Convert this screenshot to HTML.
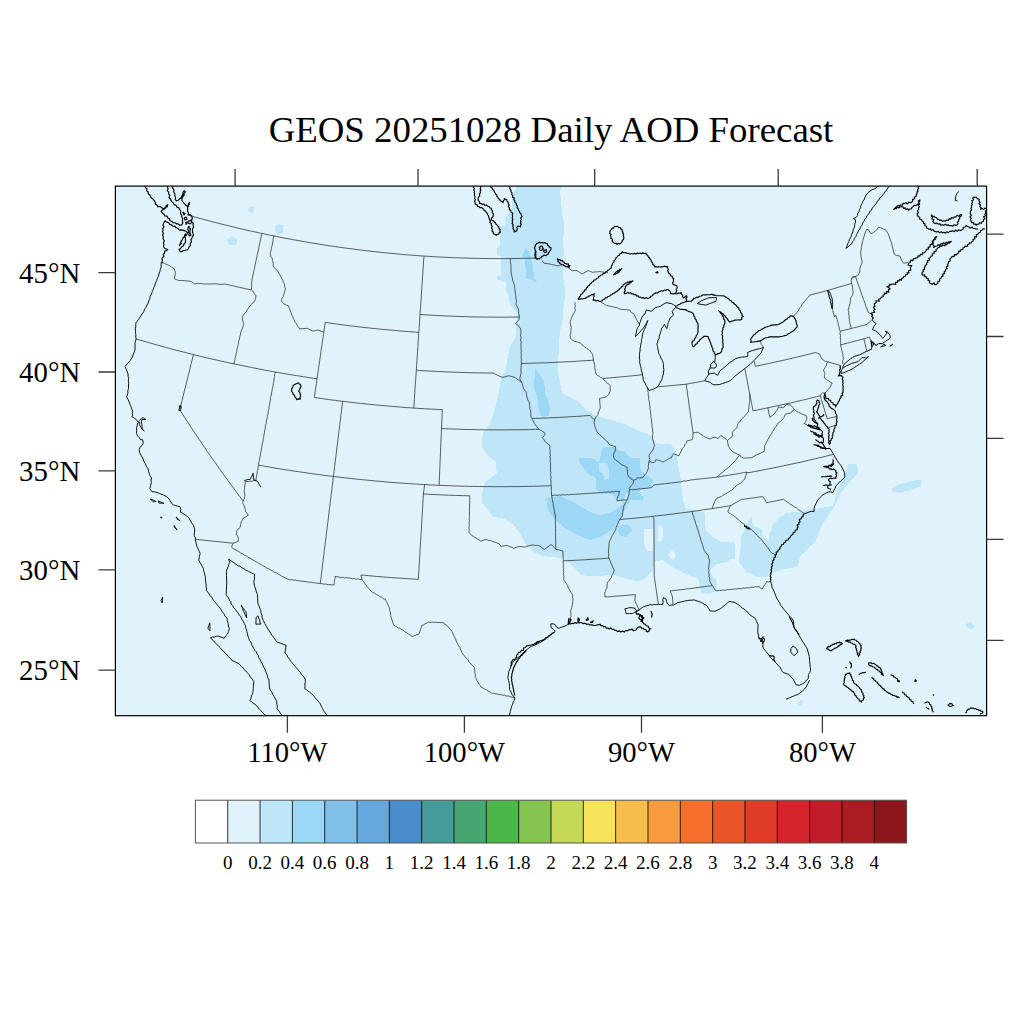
<!DOCTYPE html><html><head><meta charset="utf-8"><title>GEOS AOD Forecast</title><style>html,body{margin:0;padding:0;background:#fff;}svg{display:block;}text{font-family:"Liberation Serif","Times New Roman",serif;fill:#000;}</style></head><body><svg width="1024" height="1024" viewBox="0 0 1024 1024"><defs><clipPath id="mc"><rect x="115.4" y="186.1" width="871.2" height="529.6"/></clipPath></defs><rect x="115.4" y="186.1" width="871.2" height="529.6" fill="#e0f3fb"/><g clip-path="url(#mc)"><path d="M515.7,186 562.6,186 560.2,190.7 560.8,201.2 562.6,216.5 564.3,221.2 563.8,230.5 563.2,244.6 563.8,251.6 562.6,268 563.8,282.1 565.5,291.5 563.8,306 562.2,323.4 559.8,331.3 558.3,359.4 557.5,368.8 562.2,393.8 570,396.9 577.8,401.6 585.6,409.4 595,415.6 607.5,418.8 625.1,424.1 637.8,430.5 647.9,434.3 653,438.1 655.5,443.2 670.8,444.4 675.8,450.8 678.4,466 680.6,478.1 683.2,500.9 685.7,508.6 704.5,512.5 704.5,520 706,530 712,537 722,542 733,542 735.2,544 735.2,558.6 730.8,558.6 727.9,561.5 716.2,564.5 711.8,568.8 708.8,570.3 712,575 717.6,582 716,590 710,594 702,593 699,585 698.6,579 684,573.2 675.2,568.8 662,560 654.6,561.5 653,570 645,578 637.8,581.6 622.5,577.8 614.9,575.2 607.3,575.2 594.6,576.5 581.9,575.2 571.7,565.1 564.1,558.7 556.5,557.4 543.8,556.2 533.6,552.4 526,544.7 520.9,534.6 513.3,524.4 505.7,519.3 493,516.8 485.4,506.7 481.6,501.6 482.9,487.6 485.4,481.3 496.8,473.6 495.5,460.9 487.9,455.9 481.6,445.7 482.9,433 489.2,425.4 493,415.2 495,409.4 499.7,387.5 501.3,378.1 505.9,368.8 507.5,359.4 509.8,346.9 515.3,337.5 516.9,320.3 516.9,314 513.8,309.4 510.6,304.7 509,300 508.7,295 506.3,291.5 505.7,281 497.5,279.8 497,276.2 501,275.1 501,256.3 497.5,255.1 497,248.1 499.9,246.9 500.5,227 505.2,225.8 505.2,217.6 508.7,213 511.6,211.8 512.2,193 515.7,190ZM772,516 782.2,513.6 802.5,511 817.8,508.6 833,506 838,488 845.7,473 848.2,464 857.1,464.1 858.4,473 850.8,480.6 840.6,493.3 833,508.6 822.8,523.8 815.2,541.6 800,556.8 797.4,567 782.2,569.5 774.6,572 767,577.1 756.8,577.1 746.7,572 739,561.9 741.6,536.5 746.7,523.8 751.7,516.2 759.3,521.3 767,523.8ZM248.4,209 251,206.4 255,207 253,213 249,212ZM274.8,226 279,224 283.6,225 283,233 276,235ZM226.5,240 231,237 237.4,239 236,245 229,245ZM891.5,488 900,484 912,481 922.3,479.5 921,486 910,490 900,492.7 893,492ZM966,624 970,622 975,626 972,629 967,628ZM797,703 800,700 803,701 802,706 798,706Z" fill="#bee6f8" fill-rule="evenodd" shape-rendering="crispEdges"/><path d="M750.8,513.4 752.3,514.2 751.6,519.7 753.1,525.9 757.8,527.5 761.7,529 761.7,536.9 765.6,540 768.8,540 768.8,533.8 771.9,530.6 771.9,525.9 775.8,521.3 779.7,517.3 787.5,512.7 803.1,508 803,500 750,500ZM644.4,529.3 653.2,529.3 653.2,551.3 647,551.3 644.4,545ZM657.6,526 661,524.9 663.4,530 662,541 658,541ZM670,550 674,549.8 675.2,557 672,560 669.3,556Z" fill="#e0f3fb" fill-rule="evenodd" shape-rendering="crispEdges"/><path d="M579.3,458.3 592.5,458.3 599.3,462.2 602.2,447.6 614.9,446.6 618.8,450.5 624.7,451.5 630.5,458.3 640.3,458.3 640.3,469.1 643.2,473 648.1,475.9 653,479.8 652,484.7 646.2,488.6 640.3,488.6 639.3,492.5 644.2,497.4 642.3,500.3 630.5,500.3 628.6,505.2 622.7,500.3 616.9,497.4 611,494.5 599.3,492.5 596.4,488.6 595.4,476.9 589.5,474.9 584.6,469.1 579.3,462.2ZM526.3,248.1 528.6,251.6 530.9,256.3 531.5,261 533.3,268 533.9,278.6 536.8,281.5 535,282.7 532.1,279.8 526.3,278.6 525.7,268 524.5,258.7 522.1,256.3 523.9,251.6ZM535.6,368.8 538.8,373.4 544.2,381.3 545,393.8 548.1,400 550,408 549,416 541.9,417 538.8,409.4 537.2,396.9 534.1,387.5 534.8,373.4ZM546,498 560,496 575,503 590,512 600,515 612,512 622,505 625,495 630,490 627,505 620,520 612,530 600,537 590,540 578,535 565,528 555,520 548,510ZM617.4,526 628,524.4 632.7,530 626,537.1 619,535Z" fill="#9cd8f5" fill-rule="evenodd" shape-rendering="crispEdges"/><path d="M599.3,463.2 607.1,463.2 609.1,471 609.1,478.8 604.2,479.8 603.2,473.9 599.3,471Z" fill="#bee6f8" fill-rule="evenodd" shape-rendering="crispEdges"/><path d="M188.3,215.2 191.4,216.1 194.4,216.9 197.4,217.7 200.4,218.6 203.5,219.4 206.5,220.2 209.5,221 212.6,221.8 215.6,222.6 218.7,223.4 221.7,224.1 224.8,224.9 227.8,225.6 230.9,226.4 233.9,227.1 237,227.9 240,228.6 243.1,229.3 246.1,230 249.2,230.7 252.3,231.4 255.3,232 258.4,232.7 261.5,233.4 264.5,234 267.6,234.7 270.7,235.3 273.8,235.9 276.9,236.5 279.9,237.2 283,237.8 286.1,238.4 289.2,238.9 292.3,239.5 295.4,240.1 298.5,240.6 301.6,241.2 304.6,241.7 307.7,242.3 310.8,242.8 313.9,243.3 317,243.8 320.1,244.3 323.2,244.8 326.3,245.3 329.5,245.8 332.6,246.2 335.7,246.7 338.8,247.1 341.9,247.6 345,248 348.1,248.4 351.2,248.8 354.3,249.2 357.5,249.6 360.6,250 363.7,250.4 366.8,250.8 369.9,251.1 373,251.5 376.2,251.8 379.3,252.2 382.4,252.5 385.5,252.8 388.7,253.1 391.8,253.4 394.9,253.7 398,254 401.2,254.3 404.3,254.6 407.4,254.8 410.6,255.1 413.7,255.3 416.8,255.6 420,255.8 423.1,256 426.2,256.2 429.4,256.4 432.5,256.6 435.6,256.8 438.8,257 441.9,257.1 445,257.3 448.2,257.4 451.3,257.6 454.5,257.7 457.6,257.8 460.7,257.9 463.9,258 467,258.1 470.2,258.2 473.3,258.3 476.4,258.4 479.6,258.4 482.7,258.5 485.9,258.5 489,258.6 492.1,258.6 495.3,258.6 498.4,258.6 501.6,258.6 504.7,258.6 507.8,258.6 511,258.6 514.1,258.5 517.3,258.5 520.4,258.4 523.6,258.4 526.7,258.3 529.8,258.2 533,258.2 536.1,258.1 536,254.4 535.9,250.8M542.1,260.9 543.9,263.2 546.1,263.5 548.3,263.8 550.6,264.2 552.8,264.7 555.4,265.3 558,265.8 560.2,265.2 562.4,264.6 565,265.9 567.6,267.2 569.9,269 572.3,270.8 574.5,270.6 576.7,270.5 579.4,272.2 582.1,274 585.2,272.3 588.3,270.6 590.3,271.4 592.2,272.3 594.8,272 597.3,271.8 599.9,271.6 602.6,272 605.3,272.4 608,272.8M792.7,317.1 794.9,314.7 797.1,312.2 798.6,310.3 799.6,308.1 801.2,306.3 802,304.1 803.7,302.9 804.6,301.1 806,299.8 807.1,298.2 808.6,297 809.5,295.2 812.8,294.4 816,293.5 819.3,292.7 822.5,291.8 825.8,290.9 829,290 832.2,289.1 835.5,288.1 838.7,287.2 841.9,286.3 845.2,285.3 848.4,284.4 851.6,283.4 851.2,280.9 851.5,278.5 853.4,277.4 855.4,276.3M851.5,277.1 855.3,276.7 858.7,274.7 859.7,272 860,267.8 862.1,262.4 861.1,256.9 860.7,252.1 861.4,247.3 862.8,240.5 865.5,231.6 866.9,229.2 868.6,229.9 870.6,233.3 872.3,233.3 877.1,229.6 878.5,227.2 880.5,227.5 886,230.3 888.1,233.7 891.5,243.2 894.2,254.2 896.3,255.5 899.7,255.9 901.7,260.3 903.8,263.4 907.2,262.4 909.6,263.7M161.9,262.4 164.4,263.4 166.8,264.5 169.3,265.5 171.5,267.1 174.4,269 175,271 175.3,273.2 174.9,276 174.4,278.8 176.6,279.7 178.8,280.5 181.6,280.5 184.3,280.6 187.6,281 191,281.4 192.7,282.6 194.5,283.9 196.6,283.6 198.7,283.4 201.7,283.7 204.7,284 207.7,284 210.6,284 213.5,283.9 216.4,283.9 218.7,284.2 221,284.4 222.9,284.2 224.8,284 227.8,284.7 230.7,285.3 233.7,286 236.6,286.7 239.6,287.4 242.6,288 245.5,288.7 248.5,289.3 251.4,289.9M261.9,233.5 260.9,237.9 260,242.3 259,246.7 258.1,251.1 257.2,255.5 256.2,259.8 255.3,264.2 254.4,268.6 253.4,273 252.5,277.4 251.6,281.8 251.7,286.1 251.4,289.9M251.4,289.9 252.8,291.2 254.4,293.5 255.9,295.7 255.7,298.1 255,300.4 254,302 252.4,303 251.4,304.5 249.8,306 248.6,307.8 247.4,309.5 246.5,311.3 244.5,313.7 242.4,316.2 242.3,318.2 242.5,320.1 243.7,323.3 243.3,325.7 242.6,327.9 241.3,330.6 240.7,332.6 240.4,334.7 239.7,336.8 239.5,338.9 238.7,340.9 238.6,343.1 238,345.1 237.7,347.3 236.9,349.3 236.8,351.4 236.2,353.5 235.9,355.6 235.1,357.6 235.1,359.8 234.2,361.8 234.2,363.9M274.1,236 273.1,238.2 273.1,240.7 272.5,243 272.2,245.4 271.3,247.7 271.2,250.1 270.5,252.4 270.3,254.8 270.9,256.7 272.2,258.1 272.4,260.7 273.2,263.2 273,265.3 273.7,267.2 275.7,269 277.6,270.9 279.1,273.6 280.6,276.3 281.7,278.6 283.1,280.7 283.3,282.6 284.4,284.2 284.7,286.6 285.6,288.9 284.9,290.7 284.5,292.6 283.8,294.4 283.5,296.3 282.1,298.3 281.4,300.7 282.6,302.5 284.1,304.1 286.3,305 288.5,305.9 289,307.8 289.9,309.5 290.5,311.4 291.3,313.2 291.8,314.9 292.7,316.5 293.2,318.3 294.4,320.3 295.2,322.5 296.5,324 297.4,325.8 298.8,327.2 299.6,329 303.1,328.6 305.2,328.5 307.2,328.3 310.1,329.8 313,331.2 315.5,330.6 318,330 320.9,331.1 323.8,332.2M325.2,322.4 324.5,327.1 323.9,331.8 323.2,336.5 322.5,341.2 321.8,345.9 321.1,350.6 320.4,355.3 319.8,360 319.1,364.7 318.4,369.4 317.7,374.1 317,378.8 316.4,383.5 315.7,388.2 315,392.8 314.3,397.5 317.9,398 321.4,398.5 324.9,399 328.5,399.5 332,400 335.6,400.4 339.1,400.9 342.6,401.3 346.2,401.7 349.7,402.2 353.3,402.6 356.8,403 360.4,403.4 363.9,403.7 367.5,404.1 371,404.5 374.6,404.8 378.2,405.2 381.7,405.5 385.3,405.8 388.8,406.1 392.4,406.4 396,406.7 399.5,407 403.1,407.3 406.6,407.6 410.2,407.8 413.8,408.1 417.3,408.3 420.9,408.5 424.5,408.7 428,408.9 431.6,409.1 435.2,409.3 438.7,409.5 442.3,409.6M136.2,339 139.6,340 142.9,340.9 146.3,341.9 149.7,342.9 153,343.8 156.4,344.8 159.8,345.7 163.1,346.7 166.5,347.6 169.9,348.5 173.3,349.4 176.6,350.3 180,351.2 183.4,352 186.8,352.9 190.2,353.7 193.6,354.6 197,355.4 200.4,356.3 203.8,357.1 207.2,357.9 210.6,358.7 214,359.5 217.4,360.2 220.8,361 224.2,361.8 227.6,362.5 231,363.3 234.5,364 237.9,364.7 241.3,365.4 244.7,366.1 248.2,366.8 251.6,367.5 255,368.2 258.4,368.9 261.9,369.5 265.3,370.2 268.7,370.8 272.2,371.4 275.6,372.1 279.1,372.7 282.5,373.3 286,373.9 289.4,374.5 292.9,375 296.3,375.6 299.8,376.1 303.2,376.7 306.7,377.2 310.1,377.8 313.6,378.3 317,378.8M325.2,322.4 328.5,322.9 331.9,323.4 335.2,323.8 338.5,324.3 341.9,324.7 345.2,325.2 348.5,325.6 351.9,326 355.2,326.4 358.6,326.8 361.9,327.2 365.2,327.6 368.6,327.9 371.9,328.3 375.3,328.6 378.6,329 382,329.3 385.3,329.6 388.7,329.9 392,330.2 395.4,330.5 398.7,330.8 402.1,331.1 405.4,331.4 408.8,331.6 412.1,331.9 415.5,332.1 418.8,332.3M424,256.1 423.6,260.8 423.3,265.6 423,270.4 422.7,275.2 422.3,280 422,284.8 421.7,289.5 421.4,294.3 421.1,299.1 420.8,303.8 420.4,308.6 420.1,313.3 419.8,318.1 419.5,322.8 419.2,327.6 418.8,332.3 418.5,337.1 418.2,341.8 417.9,346.6 417.6,351.3 417.3,356 416.9,360.8 416.6,365.5 416.3,370.2 416,375 415.7,379.7 415.3,384.4 415,389.2 414.7,393.9 414.4,398.6 414.1,403.3 413.8,408.1M420,314.5 423.3,314.7 426.6,314.9 429.9,315.1 433.2,315.3 436.6,315.5 439.9,315.6 443.2,315.8 446.5,316 449.8,316.1 453.1,316.2 456.4,316.4 459.7,316.5 463,316.6 466.3,316.7 469.6,316.8 472.9,316.9 476.2,316.9 479.5,317 482.9,317 486.2,317.1 489.5,317.1 492.8,317.1 496.1,317.2 499.4,317.2 502.7,317.2 506,317.2 509.3,317.1 512.6,317.1 515.9,317.1 519.3,317M416.3,370.2 419.6,370.5 423,370.7 426.3,370.9 429.7,371.1 433,371.2 436.3,371.4 439.7,371.6 443,371.7 446.4,371.9 449.7,372 453.1,372.2 456.4,372.3 459.8,372.4 463.1,372.5 466.4,372.6 469.8,372.7 473.1,372.8 476.5,372.8 479.8,372.9 483.2,372.9 486.5,373 489.9,373 493.2,373 496,374.5 498.8,375.9 500.9,376.7 502.9,377.4 505.7,376.6 508.5,375.7 511.3,376.4 514.1,377.2 515.5,377.7 516.9,379.1 518.6,380 520.1,381.3 521.8,382.4M519.3,317 519.2,319.3 517.4,321.4 515.6,323.6 517.5,324.7 518.9,326.4 520.9,329.2 520.8,331.3 521,333.5 520.5,335.6 521.1,337.7 520.6,339.9 521.1,342 520.9,344.2 521.2,346.3 520.9,348.4 521.3,350.6 521.1,352.7 521.4,354.8 521.2,357 521.4,359.1 521.2,361.3 521.5,363.4M521.5,363.4 521.2,366.2 520.9,369.1 521,373.8 519.7,378.6 521.8,382.5M519.3,317 518.9,313.6 518.6,310.2 517.3,307 515.9,303.9 516.5,301.5 516.1,299.1 515.7,295.6 515.2,292.1 514.8,288.7 514.4,285.4 513.4,282.2 512.4,279.1 512.2,277.3 511.7,275.5 511.5,273.7 511,272 511,269.1 511,266.3 510.9,264.3 510.4,262.4 510.6,260.4 509.9,258.6M521.8,382.5 522.6,385.3 523.3,388 524.5,390.1 526.2,391.8 526.6,394.6 527,397.4 527.8,399.9 529.3,402.1 529.3,404 529.8,405.9 529.7,408.3 530.6,410.6 530.8,413.6 531,416.7 532.5,419.7 534,422.8 535,424.7 536.6,426.1 537.5,427.9 539.1,429.3M539.1,429.3 535.5,429.4 531.9,429.5 528.3,429.6 524.7,429.7 521.1,429.7 517.4,429.8 513.8,429.8 510.2,429.8 506.6,429.9 503,429.9 499.3,429.9 495.7,429.9 492.1,429.9 488.5,429.8 484.9,429.8 481.2,429.7 477.6,429.7 474,429.6 470.4,429.5 466.8,429.5 463.2,429.4 459.5,429.2 455.9,429.1 452.3,429 448.7,428.9 445.1,428.7 441.5,428.6M442.3,409.6 442.1,414.4 441.9,419.1 441.7,423.8 441.5,428.6 441.3,433.3 441.1,438 440.9,442.7 440.7,447.5 440.5,452.2 440.3,456.9 440.1,461.6 439.9,466.4 439.7,471.1 439.5,475.8 439.3,480.6 439.1,485.3M258.7,465.2 262.4,465.8 266.1,466.5 269.8,467.1 273.5,467.8 277.2,468.4 280.9,469 284.7,469.6 288.4,470.2 292.1,470.8 295.8,471.3 299.6,471.9 303.3,472.4 307,473 310.7,473.5 314.5,474 318.2,474.5 321.9,475 325.7,475.5 329.4,476 333.2,476.4 336.9,476.9 340.6,477.3 344.4,477.8 348.1,478.2 351.9,478.6 355.6,479 359.4,479.4 363.1,479.8 366.9,480.1 370.6,480.5 374.4,480.9 378.1,481.2 381.9,481.5 385.6,481.9 389.4,482.2 393.1,482.5 396.9,482.8 400.6,483 404.4,483.3 408.2,483.6 411.9,483.8 415.7,484 419.4,484.3 423.2,484.5 427,484.7 430.7,484.9 434.5,485.1 438.3,485.3 442,485.4 445.8,485.6 449.5,485.7 453.3,485.9 457.1,486 460.8,486.1 464.6,486.2 468.4,486.3 472.1,486.4 475.9,486.4 479.7,486.5 483.4,486.6 487.2,486.6 491,486.6 494.7,486.7 498.5,486.7 502.3,486.7 506,486.7 509.8,486.6 513.6,486.6 517.3,486.6 521.1,486.5 524.9,486.4 528.7,486.4 532.4,486.3 536.2,486.2 539.9,486.1 543.7,486 547.5,485.9 551.2,485.7M342.6,401.3 342.1,406 341.5,410.6 340.9,415.3 340.4,419.9 339.8,424.6 339.2,429.3 338.6,433.9 338.1,438.6 337.5,443.2 336.9,447.9 336.4,452.5 335.8,457.2 335.2,461.9 334.6,466.5 334.1,471.2 333.5,475.8 332.9,480.5 332.4,485.2 331.8,489.8 331.2,494.5 330.6,499.2 330.1,503.8 329.5,508.5 328.9,513.2 328.4,517.8 327.8,522.5 327.2,527.2 326.6,531.9 326.1,536.5 325.5,541.2 324.9,545.9 324.3,550.6 323.8,555.3 323.2,559.9 322.6,564.6 322,569.3 321.5,574 320.9,578.7 320.3,583.4M275.5,372 274.7,374.3 274.6,376.7 274,379 273.8,381.4 273.3,383.7 273,386 272.3,388.3 272.1,390.7 271.5,393 271.3,395.3 270.4,397.6 270.4,400 269.9,402.3 269.6,404.7 269,406.9 268.8,409.3 268.2,411.6 267.9,414 267.3,416.3 267.1,418.6 266.3,420.9 266.2,423.3 265.4,425.5 265.4,427.9 264.7,430.2 264.5,432.6 263.9,434.9 263.7,437.2 263.1,439.5 262.9,441.9 262.1,444.2 262,446.6 261.4,448.9 261.2,451.2 260.5,453.5 260.3,455.9 259.7,458.2 259.5,460.5 258.6,462.8 258.7,465.2 258,467 258,468.9 257.3,470.7 257.3,472.6 256.7,474.5 256.7,476.4 256.1,478.2 256,480.1 253.8,480.2 251.9,481.3 249.9,481.1 247.9,481.5 245,481.6 245.2,483.7 244.8,485.8 244.5,488.6 244.2,491.4 244.7,493.9 244.7,496.4 244.3,498.8 243.1,500.9M193.4,354.6 192.3,359.2 191.1,363.8 190,368.3 188.9,372.9 187.7,377.5 186.6,382.1 185.5,386.7 184.3,391.3 183.2,395.9 182,400.5 180.9,405.1 179.8,409.7 182.4,413.9 185.1,418.1 187.8,422.3 190.6,426.5 193.3,430.6 196.1,434.8 198.9,439 201.7,443.1 204.5,447.3 207.3,451.5 210.2,455.6 213.1,459.8 216,463.9 218.9,468 221.9,472.2 224.9,476.3 227.9,480.4 230.9,484.5 233.9,488.6 236.9,492.7 240,496.8 243.1,500.9M243.1,500.9 242.7,503.3 244,504.9 244.5,506.9 245.3,509.4 245.5,511.9 247.3,513.3 248.2,515.3 245.7,516.8 243.1,518.3 242.3,520.1 241.3,521.8 240.6,524.6 240,527.3 238.5,529.2 236.5,530.6 236.7,532.5 236.1,534.4 237.6,536 238.3,538.1 238.2,541.5 235.9,542.2 233.8,543.2M233.8,543.2 229.9,542.9 226.1,542.5 222.2,542.1 218.4,541.7 214.5,541.3 210.7,540.9 206.9,540.5 203,540.1 199.2,539.7 195.3,539.2M233.8,543.2 232.3,545 231.6,547.3 233.2,548.7 235.2,549.5 237,550.7 238.9,551.6 240.6,552.9 242.6,553.8 244.3,555.2 246.3,555.9 248,557.3 250,558.1 251.7,559.4 253.7,560.2 255.5,561.4 257.5,562.4 259.2,563.7 261.2,564.5 262.8,565.9 264.9,566.6 266.6,568 268.7,568.7 270.5,569.9 272.5,570.8 274.1,572.2 276.3,572.8 278.1,574 280,574.9 281.8,576.3 283.8,577 285.6,578.2 287.6,579 289.5,579.8 291.5,579.6 293.4,580.1 295.3,580.1 297.2,580.7 299.2,580.7 301.1,581.2 303,581.2 305,581.6 306.9,581.7 308.8,582.3 310.8,582.2 312.7,582.7 314.6,582.7 316.5,583.3 318.5,583.2 320.4,583.6 322.3,583.7 324.2,584.1 326.2,584.1 328.1,584.7 330.1,584.6 332,584.9 333.9,585 334.4,582.9 334.4,580.7 335.1,578.7 334.9,576.5 336.8,576.8 338.8,576.9 340.6,577.6 342.6,577.3 344.5,577.9 346.5,577.7 348.4,578.1 350.4,578.1 352.3,578.8 354.2,578.5 356.1,579.2 358.1,578.9 360,579.4 362,579.3M360.9,575 364.8,575.3 368.6,575.7 372.4,576 376.2,576.4 380,576.7 383.9,577 387.7,577.3 391.5,577.6 395.4,577.9 399.2,578.1 403,578.4 406.8,578.6 410.7,578.9 414.5,579.1 418.3,579.3 418.6,574.6 418.9,569.8 419.2,565.1 419.5,560.3 419.8,555.6 420,550.8 420.3,546.1 420.6,541.3 420.9,536.6 421.2,531.8 421.5,527.1 421.7,522.4 422,517.6 422.3,512.9 422.6,508.2 422.9,503.4 423.1,498.7 423.4,494 424,489.3 424.6,484.6M362,579.3 360.9,575M362,579.3 363.1,581.1 364.4,582.7 365.4,584.5 366.7,586.1 369,588.7 371.2,591.3 372.8,592.6 374.7,593.2 376.3,594.6 378.2,595.2 379.8,596.6 381.8,597.2 383.3,598.6 385.3,599.1 386.2,601.5 387.5,603.6 388.3,605.9 389.6,608.1 389.7,610.6 390.5,613 390.6,615.5 391.4,617.8 392.4,621.3 393.4,624.7 394.9,625.8 396.6,626.5 398,627.8 399.8,628.3 401.3,629.4 403.1,630.2 404.5,631.5 406.3,632.3 407.7,633.6 409.5,634.4 411,635.7 412.8,636.5 415.8,635.2 418.8,634 419.8,631.9 420.3,629.7 421.4,627.7 421.8,625.5 423.6,624.9 425.2,623.7 427,623.1 428.6,622 430.5,622.5 432.3,622.1 434.2,622.5 436.1,622.3 437.9,622.6 439.8,622.5 441.7,622.7 443.6,622.6 444.6,624.3 446.5,625 447.6,626.6 449.2,627.7 450.1,629.5 451.6,630.6 452.5,632.9 453.7,635.1 454.7,637.4 455.8,639.7 456.6,642.1 457.9,644.2 458.4,646 460,647.2 460.3,649.1 461.3,650.6 461.8,652.4 462.8,654 463.9,655.6 465.5,656.9 466.6,658.6 468.2,659.8 468.9,661.9 470.5,663.1 471.5,664.9 473.3,666 474.4,667.7 474.8,670.1 474.8,672.5 475.4,674.9 475.1,677.4 476.5,678.8 476.9,680.7 478.1,682.3 478.9,684 480.2,685.4 481,687.1 482.9,687.9 484.5,689.1 486.4,689.8 487.9,691.1 489.9,691.7 491.4,693.1 493.3,693.2 495.1,693.8 497,694 498.8,694.5 500.7,694.6 502.5,695.3 504.4,695.1 506.2,696 508.5,696 510.6,696.9 512.8,697.3 514.9,697.9M423.4,494 427,494.2 430.5,494.4 434.1,494.5 437.6,494.7 441.2,494.9 444.8,495 448.3,495.2 451.9,495.3 455.4,495.4 459,495.5 462.6,495.6 466.1,495.7 469.7,495.8 469.8,498.1 469.6,500.4 469.7,502.7 469.5,505 469.6,507.3 469.4,509.6 469.6,511.9 469.3,514.2 469.5,516.5 469.2,518.8 469.4,521.1 469.1,523.4 469.3,525.7 469,528 469.2,530.3 468.9,532.6 470.5,534 471.9,535.7 473.6,536.4 475,537.6 476.8,538.3 478.1,539.6 479.9,540.3 481.2,541.5 483,540.2 485.2,539.7 487.1,539.7 488.7,540.5 490.6,540.5 492.3,541.3 495.4,542.4 498.6,543.6 500,544.8 500.9,546.4 503.7,545.9 506.4,545.4 508.3,545.9 510,546.9 511.9,547.2 513.6,548.3 516.3,547.3 519.1,546.3 521.8,546.7 524.6,547.2 526.3,546.3 528.1,546.1 529.8,545.4 531.7,545.1 533.7,545.1 535.6,545.5 537.6,545.4 539.6,545.9 542,547.7 544.4,549.5 546,548.1 547.9,547 549.5,545.6 551.4,544.6 553.6,546.9 555.8,549.3M551.2,485.7 551.4,490.5 551.6,495.2 552.3,499.3 553.1,503.5 553.8,507.6 554.6,511.8 555.3,515.9 555.4,520.1 555.4,524.3 555.5,528.4 555.6,532.6 555.6,536.8 555.7,541 555.8,545.1 555.8,549.3M555.8,549.3 559.3,550 562.9,550.8 563,554.1 563.1,557.5 563.3,560.8 567.1,560.7 570.9,560.5 574.7,560.3 578.5,560.1 582.4,559.9 586.2,559.7 590,559.4 593.8,559.2 597.6,558.9 601.4,558.7 605.2,558.4 609,558.1M563.3,560.8 563.1,562.8 563.5,564.7 563.1,566.7 563.6,568.7 563.3,570.6 563.8,572.6 563.4,574.6 564,576.5 563.7,578.5 564.1,580.4 566,583.1 567.8,585.8 568.2,587.8 569.3,589.6 571,592.3 572.8,595.1 572.4,597.1 573,598.9 572.7,601.8 572.4,604.7 571.6,607.6 570.7,610.5 570.9,613.4 571,616.3 570.1,619.7 569.2,623.1M551.6,495.2 553.5,495.5 555.4,495 557.3,495.4 559.2,494.9 561.1,495.1 562.9,494.7 564.8,495 566.7,494.5 568.6,494.8 570.5,494.4 572.4,494.5 574.3,494.2 576.2,494.4 578,494 579.9,494.2 581.8,493.7 583.7,493.8 585.6,493.5 587.5,493.6 589.4,493.3 591.3,493.4 593.1,493 595,493.1 596.9,492.8 598.8,492.8 600.7,492.5 602.6,492.8 604.5,492.2 606.4,492.3 608.2,491.9 610.2,492.3 612,491.6 613.9,491.8 615.8,491.3 617.7,491.5 619.5,491 619,492.9 619.1,494.8 617.8,496.7 617.1,498.8 617,500.7 620.2,500.4 623.5,500.1 626.8,499.9M539.1,429.3 541.4,430.7 543.7,432 545.2,433.9 544,436 542.2,437.6 543.8,439.3 544.8,441.4 547,443.3 549.3,445.1 550.1,446 549.7,448.2 550.2,450.4 549.9,452.6 550.3,454.8 550,457 550.5,459.2 550.1,461.4 550.6,463.6 550.4,465.9 550.7,468.1 550.3,470.3 550.9,472.5 550.5,474.7 551,476.9 550.7,479.1 551.1,481.3 551,483.5 551.2,485.7M532.2,418.5 535.6,418.4 539,418.3 542.5,418.2 545.9,418 549.3,417.9 552.7,417.7 556.1,417.6 559.5,417.4 562.9,417.2 566.3,417 569.7,416.8 573.2,416.6 576.6,416.4 580,416.2 583.4,415.9 586.8,415.7 590.2,415.4 592.3,418.1 594.9,419.3M521.5,363.4 524.9,363.3 528.4,363.3 531.8,363.2 535.2,363.1 538.6,363 542.1,362.9 545.5,362.8 548.9,362.6 552.3,362.5 555.8,362.3 559.2,362.2 562.6,362 566,361.8 569.5,361.7 572.9,361.5 576.3,361.3 579.7,361 583.2,360.8 586.6,360.6 590,360.4 593.4,360.1M575,302.2 575,304.3 575.2,306.4 574.9,308.5 575.4,310.6 573.9,313.2 572.4,315.8 571.3,318.7 570.1,321.6 570.6,324.5 571.1,327.3 570.9,330.2 570.8,333 570.1,335.4 570.4,337.8 571.5,339.4 573.2,340.5 574.8,341.6 576.7,341.7 578.4,342.5 580.2,342.9 581.5,344.4 583.1,345.6 584.7,347.2 586.6,348.2 588.4,349.6 590.3,350.8 591.3,352.7 592.6,354.5 593,357.3 593.4,360.1M593.4,360.1 594.1,362.9 594.8,365.7 594.7,367.6 595.1,369.5 595.4,371.9 596.1,374.2 597.6,375.6 599.5,376.3 600.9,377.7 602.8,378.4 603.9,380 605.5,381.2 606.6,382.8 608.6,383.8 610.1,385.4 610.1,388.2 610.2,391.1 609.4,393.1 608.4,395 606.9,396.4 605,397.2 602.2,397.9 599.4,398.6 599.8,401 599.8,403.3 600.2,405.7 600.2,408.1 598.9,411 598.2,412.9 597.8,414.9 596,416.9 594.9,419.3 594,422.7 594.7,425.5 595.5,428.3 596.4,430.1 596.9,432 599.2,434.2 601.6,436.4 604,438.6 606.4,440.8 607.9,442.1 608.7,444 610.4,445.2 613,445.9 615.7,446.7 615.4,448.6 615.3,450.5 614.1,452.9 613.5,455.4 613.7,457.3 614.5,459.1 617.3,461.2 620.1,463.4 621.7,464.8 623.7,465.4 625.4,466.6 627.3,467.5 627,469.4 627.6,471.2 627.4,473.2 628,475 628.7,476.8 630.5,477.8 631.4,479.4 633.8,480.2 633.3,483.1 631.3,485.6 629.2,488.2 629.4,490.1 629,492 629,493.9 628.1,496.9 627.2,499.8 625.6,502.8 623.9,505.8 623.4,508.7 622.9,511.6 622.4,514 622.5,516.4 620.8,517.7 619.7,519.5 618.4,522.5 617,525.5 616.1,527.3 615.8,529.4 614.1,532.4 612.3,535.4 611.4,537.3 610.7,539.3 609.6,541.2 609,543.2 608.9,546.6 608.7,549.9 608.3,552 608.9,554 608.6,556.1 609,558.1 610.2,561.1 611.4,564 612.8,567.3 614.3,570.5 613.5,572.2 613,574 611.8,575.5 611.6,577.4 610.2,578.7 609.4,580.4 607.9,581.7 607.2,583.5 607.1,586.4 606.9,588.2 605.8,589.8 605.4,591.6 604.6,593.2 605,595.1 604.9,597M639.6,325.2 638.6,322.7 637,320.7 636.3,318.8 635.3,317.1 634.7,315.1 633.5,313.4 631.4,312.7 629.8,310 627.1,309.8 624.4,309.6 622.1,309.4 619.7,309.1 617.6,307.8 614.9,307.3 612.2,306.7 609.5,306.1 606.8,305.6 604.9,304.6 603.3,303.3 601.3,302.5 599.8,301M602.9,378.4 606.2,378.1 609.5,377.9 612.8,377.6 616.1,377.3 619.4,377 622.7,376.7 626,376.4 629.3,376.1 632.6,375.8 635.9,375.4 639.1,375.1 642.4,374.7M647.8,388.1 647.7,390.4 648.3,392.6 648.2,394.9 648.8,397.1 648.6,399.4 649.4,401.7 649.5,403.9 649.9,406.2 649.9,408.5 650.4,410.7 650.5,413 650.9,415.3 651,417.5 651.5,419.8 651.5,422.1 652,424.3 652,426.6 652.5,428.8 652.5,431.1 653,433.4 652.4,435.7 652.5,438.2 652.9,440.1 653.7,441.9 653.9,443.8 654.6,445.6 653.5,447.5 653.1,449.6 651.2,452.2 649.2,454.8 649.1,457.1 649.7,459.5 649,461.3 649,463.4M657.7,386.9 660.9,386.6 664.1,386.3 667.2,386 670.4,385.7 673.5,385.4 676.7,385.1 679.9,384.8 683,384.5 686.2,384.2 689.3,383.6 692.5,383 695.6,382.5 698.7,381.9 701.8,381.3 705,380.7M686.2,384.2 686.8,388.6 687.4,393 688.1,397.5 688.7,401.9 689.3,406.3 689.9,410.8 690.5,415.2 691.2,419.6 691.8,424 692.4,428.5 693,432.9M633.8,480.2 635.8,479.4 637.4,477.9 639.6,477.9 641.9,477.8 644,476.3 645,474.5 646.4,473 647.3,471.2 648.4,468.2 648.3,465.8 648.7,463.4 649.9,461.3 651.8,462.4 653.9,462.8 655.1,461.5 655.8,459.7 658.9,460.3 661,461 662.8,462.1 665.3,460.7 667.7,459.2 669.4,458.2 671.3,457.8 672.3,455.6 673.8,453.7 676.2,454.8 678.6,455.9 680.1,453.2 681.6,450.4 682.5,448.3 684.1,446.6 684.8,444.9 685.9,443.5 687,440.8 689.6,440.3 692.1,439.7 692.8,437.5 692.9,435.2 693,432.9 695.4,432.6 697.7,432.2 699.5,433.3 701,434.6 703,435.4 704.4,436.9 707.1,438 709.9,439 712,438.1 714.1,437.3 716.2,437.5 718.1,438.6 719.3,437 720.7,435.7 722.5,436.3 723.9,437.6 725.8,438.9 727.4,440.5 730,438.3 732.7,436.1 732.4,433.8 732.7,431.5 734.9,429.6 737.1,427.6 737.4,425.6 737.9,423.6 739.7,422 741.5,419.1 743.4,417.3 745.3,415.5 746.6,413.6 748.4,412.1 748.7,409.1 749,406.2 749.4,403.2 749.8,400.2 749.7,397 749.7,393.7M744.8,368.8 745.7,373 746.5,377.2 747.3,381.4 748.1,385.6 748.9,389.8 749.8,394 750.6,398.2 751.4,402.4 752.2,406.6 753,410.8 756.6,410.1 760.1,409.4 763.7,408.7 767.2,407.9 770.8,407.2 774.3,406.4 777.9,405.7 781.4,404.9 785,404.1 788.5,403.4 792,402.6 795.6,401.8 799.1,400.9 802.6,400.1 806.2,399.3 809.7,398.4 813.2,397.6 816.7,396.7 820.2,395.8M727.4,440.5 727.9,443.5 728.4,446.5 730.4,449 732.3,451.5 734,452.6 735.9,453.3 737.6,454.5 739.5,455.1 737.5,457.8 735.4,460.6 733,462.9 730.6,465.3 728.2,467.6 725.7,469.6 723.3,471.6 720.8,473.6 718.9,475.4 717,477.1M739.5,455.1 741.3,456.8 743.4,458.2 746.2,458 749,457.9 751.7,457.7 754.2,456.2 756.6,454.8 759.1,453.7 761.7,452.5 764.3,451.4 764.5,448.5 764.7,445.5 765.9,444.1 766.3,442.3 767.5,440.9 768,439.1 769.3,437.3 770.2,435.2 771.6,433.5 772.5,431.4 773.9,429.9 774.8,428 776.3,425.9 777.6,423.5 779.3,422.5 780.5,421 782.1,420 783.3,418.5 784.5,416.4 785.4,414.1 787.9,413.6 790.4,413 792,411.9 793,410.1 794.6,409.7M767.9,407.8 768.5,411 769.2,414.2 769.9,417.4 772.3,415.5 774.7,413.5 776.4,410.8 777.8,409 778.5,406.9 780.9,407.4 783.2,407.8 785,406.3 786.2,404.3 788.5,404.7 790.9,405.2 792.9,407.6 794.6,409.7M794.6,409.7 796.4,411.1 798.4,412.2 800.8,413.4 803.2,414.6 806,415.3 806.7,417.1 806.8,419 805.8,421.4 804.1,423.5 806,424.2 807.6,425.6 809.5,426.4 811.2,427.7 814.1,428.3 817.1,428.8 820,429.4M827.3,428 830.2,427 833,426.1 835.8,425.1M820.2,395.8 821.4,399.6 822.6,403.5 823.8,407.3 824.9,411.1 826.1,414.9 827.3,418.7 830.4,417.9 833.6,417.2 836.7,416.5M820.2,395.8 821.1,394.1 822.6,392.9 825.1,393.1M815.6,352.5 817.8,353.4 819.9,354.3 820.6,356.6 821.8,358.7 824.5,360.9 827.9,361.8 826.7,363.4 826.4,365.4 825,367.7 823.5,370 824.1,371.8 824.9,373.6 824.3,375.8 824.6,378.2 826.2,379.5 828.2,380.6 830.1,382 832.2,383 831.1,384.8 830.5,386.8 828.2,389.3 826.6,391.2 825.1,393.1M754.2,361.3 754.8,363.8 755.3,366.3 758.6,365.6 762,364.9 765.4,364.2 768.7,363.5 772.1,362.8 775.5,362 778.8,361.3 782.2,360.5 785.5,359.8 788.9,359 792.2,358.2 795.6,357.4 798.9,356.6 802.3,355.8 805.6,355 809,354.2 812.3,353.3 815.6,352.5M763.6,347.5 761.6,344.7 760.1,341.1M827.9,361.8 831,362.8 834.2,363.7 837.3,364.6 840.5,365.5M843.8,364.6 842.3,363.1 842.7,360.8 843.8,358.7 843,356.5 842.8,354.1 842.1,351.8 841.8,349.4 840.9,347.2 840.8,344.8 840.4,342.6 840.7,340.3 840.3,338 840.5,335.7 839.9,333.5 840.3,331.2 839.3,329.4 839.2,327.3 838.5,325.4 838.2,323.4 837.6,321.5 837.2,319.5 836.4,317.6 836.2,315.6 834.3,316.7 834,314.7 833.2,312.8 832.9,310.7 832.2,308.8 832.1,306.9 831.3,305.1 831,303.2 830.4,301.3 830.4,299.4 829.5,297.6 829.4,295.7 828.7,293.9 828.4,291.9 827.8,290.1M851.6,283.2 852.2,285.2 852.6,287.1 852.6,289.1 853,291 853.1,292.9 852.3,295.4 850.9,297.5 850.4,300.6 849.9,303.8 849,307 848.2,310.2 848.8,312.1 848.6,314 849.2,315.9 849,317.9 849.5,320.7 849.9,323.5 850.6,326 851.2,328.5M840.3,331.2 843,330.5 845.7,329.8 848.5,329.2 851.2,328.5 854.3,327.7 857.5,326.9 860.6,326.1 863.7,325.3 866.9,324.4 869.6,321.9 872.3,319.4M855.4,276.3 856.7,280.2 858.1,284.1 859.5,288 860.9,291.9 862.2,295.7 863.6,299.6 864.9,303.2 866.1,306.8 867.1,309.5 868.2,312.1 872.7,315.1M840.8,344.8 844.1,344 847.4,343.1 850.7,342.3 854,341.4 857.3,340.6 860.6,339.7 863.9,338.8 866.7,337.9 869.5,337.1 870.2,339.3 872.6,341.5 874.9,343.8 875.9,345.5M863.9,338.8 864.9,343 865.9,347.3 866.9,351.5M833.6,454.4 830,455.2 826.4,456.1 822.9,457 819.3,457.8 815.7,458.7 812.1,459.5 808.5,460.4 804.9,461.2 801.3,462 797.7,462.8 794.1,463.6 790.5,464.3 786.9,465.1 783.3,465.9 779.7,466.6 776.1,467.4 772.5,468.1 768.9,468.8 765.3,469.5 761.7,470.2 758,470.9 754.4,471.6 750.8,472.3 747.2,472.9 747,472 743.3,472.7 739.5,473.4 735.8,474 732,474.7 728.3,475.3 724.5,475.9 720.8,476.5 717,477.1M717,477.1 713.7,477.5 710.4,477.8 707,478.2 703.7,478.5 700.4,478.9 697,479.2 695.1,479.4 693.3,479.8 691.4,479.8 689.5,480.4 687.6,480.6 685.8,481.1 683.8,480.9 682,481.7 678.5,482.1 675,482.5 671.6,482.9 668.1,483.3 664.6,483.7 661.1,484.1 657.6,484.5 654.1,484.9 652.5,486.2 651.4,487.9 649.5,487.7 647.7,488.3 645.8,488.2 644,488.6 642.2,488.5 640.4,489 638.5,488.9 636.7,489.4 634.9,489.4 633.1,489.7 631.2,489.6 629.4,490.1M747,472 746.3,473.7 745.9,475.6 745.2,477.3 744.9,479.1 742.9,480.6 741.6,482.6 739.1,484 736.6,485.4 734.3,487.7 732,490 729.9,491.3 727.7,492.7 726.1,493.5 724.6,494.6 722.8,495.4 721.4,496.6 719.1,497.4 716.9,498.2 715.4,500.2 714.5,502.5 713.2,505.5 711.9,508.6M730.5,505.7 726.7,506.3 722.9,506.9 719.1,507.5 715.3,508.1 711.5,508.7 707.7,509.2 703.9,509.8 700.1,510.4 696.2,510.9 692.4,511.4 688.6,512 684.8,512.5 681,513 677.1,513.4 673.3,513.9 669.5,514.4 665.7,514.9 661.8,515.3 658,515.7 654.2,516.2 650.4,516.6 646.5,517 642.7,517.4 638.9,517.8 635,518.1 631.2,518.5 627.3,518.8 623.5,519.2 619.7,519.5M604.9,597 608.7,596.8 612.5,596.5 616.3,596.2 620.1,595.9 624,595.6 627.8,595.2 631.6,594.9 635.4,594.6 635.1,597.5 634.8,600.4 636,603.2 637.3,605.9 639.3,610M652.2,516.4 653.9,518.3 654,523 654,527.8 654,532.6 654,537.3 654.1,542.1 654.1,546.8 654.1,551.6 654.1,556.4 654.1,561.1 654.1,565.9 654.2,570.7 654.2,575.5 654.7,579.5 655.3,583.6 655.9,587.7 656.5,591.8 657.1,595.9 657.7,599.9 658.3,604M692.3,511.5 692.5,513.9 693.7,516 694,518.5 695.1,520.6 695.3,523.1 696.5,525.2 697,527.6 698,529.8 698.4,532 699.2,534 699.6,536.2 700.5,538.1 700.8,540.3 701.8,542.3 702.2,544.5 703.1,546.5 703.5,548.6 704.4,550.6 706.2,553 708,555.3 708.8,558.1 709.6,560.8 709.2,563.8 708.8,566.7 708.5,568.7 709,570.6 708.6,572.5 709.1,574.4 708.9,576.4 709.7,578.2 709.6,580.1 710.2,582 711.1,583.9 712.4,585.5M712.4,585.5 708.5,586.1 704.7,586.6 700.9,587.1 697,587.6 693.2,588.2 689.3,588.7 685.5,589.1 681.7,589.6 677.8,590.1 674,590.5 670.1,591 671.3,593.7 672.4,596.5 672.7,600.5 673,604.5M712.4,585.5 713.9,588.1 715.4,590.7 717.4,590.8 719.4,590.3 721.4,590.5 723.4,590 725.4,590.3 727.3,589.6 729.4,589.7 731.3,589.3 733.3,589.3 735.3,588.9 737.3,588.9 739.2,588.5 741.3,588.8 743.2,588.1 745.2,588.2 747.2,587.7 749.2,587.9 751.1,587.2 753.2,587.3 755.1,586.8 757.1,587 759.1,586.4 760.3,588.1 762.1,589.1 763.4,587 764.3,585.1 765.9,583.6 766.6,581.5 768.7,581.9 770.7,581.4M730.5,505.7 729.1,508.8 727.8,511.9 729.2,513.1 730.8,513.8 732.2,515 733.9,515.7 735.4,517.2 737.2,518.5 738.6,520.1 740.4,521.3 742.1,523 744.1,524.1 745.8,525.7 747.8,526.8 750.5,529 753.2,531.2 755.3,533.5 757.4,535.7 759.9,538.2 762.4,540.6 763.5,542.5 765,544 766.2,545.8 767.7,547.4 769,549.6 770.6,551.7 771.9,553.2 773.8,553.8 775.2,555.1M730.5,505.7 733.3,504.1 736,502.5 738.7,501 741.4,499.4 744.8,499 748.1,498.6 751.4,498.2 754.8,497.7 758.1,497.2 761.4,496.7 763.3,496.9 764.9,499.8 766.5,502.7 769.9,502 773.4,501.4 776.8,500.7 780.2,500 783.6,499.3 785.6,500.9 787.9,502.2 789.7,504 792.1,505.1 794.1,506.7 796.4,507.9 798.3,509.7 800.6,510.8 802.5,512.6 804.9,513.6" fill="none" stroke="#2a2a2a" stroke-width="0.75" stroke-linejoin="round"/><path d="M161.3,262.2 161.1,264.6 161.2,267.1 160.3,269.3 159.9,271.7 159,273.9 158.5,276.3 157.3,278.4 156.7,280.7 155.5,282.8 154.9,285.1 153.9,287.3 153.2,289.6 152.2,291.7 151.5,294 150.3,296.1 149.8,298.5 148.8,300.7 148.2,303 147,305 146,307.3 144.5,309.2 143.8,311.6 141.9,314 140.2,316.9 138.4,319.8 136.1,322.5 135.7,324.6 135.8,326.7 135.3,328.8 135.6,330.9 135.5,332.9 135.9,334.9 135.7,337 136.2,339 135.5,341.2 135,343.6 135,347 134.9,350.4 133.5,354 132.1,357.5 129.9,360.8 127.5,363.6 125,366.5 126.2,369.2 127.3,371.9 128,373.9 128.1,376.1 128.6,378.5 128.3,381 128.7,383.5 128.5,386 128.5,388.5 127.8,390.8 127.9,393.2 127.2,395.5 126.5,396.3 127.9,399.2 129.2,402 130,404.3 131,406.5 131.5,408.8 132.8,410.9 132.4,413.3 132.7,415.8 131.7,416.5 134.6,418.3 136.5,419.8 138.2,421.9 139.4,420.6 141.6,418.3 143.2,417.8 145.9,419.5 142,419.4 141.5,421.2 141.5,423.3 142,425.3 142.1,427.3 142.4,429.3 144.3,430.8 142.5,429.7 141.2,428 139.5,424.6 139.9,422.7 137.9,422.6 137.3,425.1 136.6,427.7 136.6,430.7 136.6,433.6 137.5,435.8 139.2,437.5 140.4,439.6 142.7,439.8 143.3,443.3 142.4,445.1 140.9,446.5 139.9,447.3 139.2,449.6 139.4,452 141.2,455.5 143.1,458.9 143.8,461.3 145.1,463.4 146.6,466.7 148,468.7 148.6,471.1 149.4,474.3 150.3,476.2 151.7,477.8 151.1,480.2 151.3,482.6 150.6,485.6 149.9,488.5 151.9,491.6 154,491.9 156.1,492.2 159.8,493.6 163.5,495 165.6,496.2 167.7,497.4 169.1,499 170.1,500.9 171.9,503.7 173.5,505 175.5,505.5 177.8,506.2 180,506.8 180.8,509.3 180.4,512.1 182.6,513.2 185.1,514.9 187.5,516.7 189.1,518.2 190,520.1 191.8,523 193.6,525.8 194.3,527.8 194.7,529.9 194.4,532.8 194.3,535.7 195.4,537.9 195.3,539.2 196,542.6 196.7,545.9 197.7,547.7 198.4,549.7 199.4,551.5 200.1,553.5 199.4,556.7 198.7,560 200.5,563.3 202.3,566.6 203.4,568.6 203.6,570.8 204.4,572.8 204.8,574.9 205.4,576.9 205.3,578.9 205.7,580.9 205.7,582.9 206.2,584.9 206.2,586.9 206.7,588.9 206.6,590.9 208.5,593 210,595.5 211.9,597.6 213.3,600 215.9,603.1 218.4,606.2 220.9,609.3 222.2,611.7 223.9,613.7 225.1,616.2 227,618.2 227.3,620.8 228.2,623.3 228.4,626 229.4,628.4 228.5,631.2 227.6,634 225.6,635.9 224.2,638.3 221.3,637.2 218.5,636.2 216.4,636.2 214.5,637 212.4,637 210.4,637.7 213.1,640.5 215.7,643.2 218.4,646 220.2,647.7 221.7,649.6 223.6,651.1 225,653.1 227,654.6 228.3,656.7 230.3,658.1 231.6,660.2 234.9,661.7 238.1,663.3 239.9,664.6 241.1,666.4 242.9,667.7 244.1,669.5 245.8,670.9 247.1,672.6 249.1,674.6 250.4,677.1 252.3,679.1 253.7,681.5 253.7,684 253.3,686.4 253.3,688.8 253,691.3 252.6,693.7 251.4,695.9 251,698.4 249.8,700.6 251.5,701.7 253,703.1 254.8,704 256.2,705.6 257.9,707.1 259.2,709 260.9,710.6 262.3,712.4 264,713.8 265.5,715.5 267.3,716.8 268.6,718.6 270.5,719.9 271.8,721.7M289.5,724.1 287.8,721.7 285.6,719.7 283.9,717.3 281.7,715.2 279.5,711.9 277.2,708.7 277.4,706.6 276.9,704.7 276.6,700.7 275.2,698.6 274.2,696.4 272.7,694.5 271.9,692.1 270.3,690.2 269.5,687.9 269.2,683.9 268.9,679.9 267.7,677.5 267.1,674.7 266,672.2 265.2,669.6 263.6,667 262.5,664.3 261,661.7 259.8,659 258.6,657.3 258.2,655.2 256.8,653.6 256.1,651.6 254.6,650.1 253.7,648.2 252.1,645.7 251.1,642.9 249.5,640.4 248.5,637.6 247.8,635.6 247.5,633.5 246.8,631.5 246.4,629.4 245.6,627.5 245.4,625.4 244.1,623.3 243.2,621.1 241.7,619.1 240.9,616.8 239.3,615.1 238.1,613 236.6,611.3 235.4,609.3 233.7,607.7 232.7,605.6 231.2,604 230.9,601.7 229.4,600.1 228.6,598.1 227.2,596.5 226.2,594.7 226.4,590.8 226.5,586.9 226.7,583.1 226.6,579.1 226.5,575.2 226.4,571.3 227.1,569 228.1,566.8 228.7,564.5 229.7,562.3 228.7,559.1 231.8,561.3 235,563.5 238.2,565.7 240.3,566.4 241.9,567.9 243.9,568.7 245.7,570 248.7,571.5 251.8,573 254.8,574.5 254.4,576.8 254.5,579.2 253.8,581.6 254.1,584 254.7,586.7 255.7,589.1 256.3,591.8 257.4,594.3 257.6,598.2 257.8,602.1 258.2,604.2 259.2,606.2 259.8,608.3 260.7,610.3 261,612.9 262,615.4 262.2,618 263.3,620.5 264.9,623.7 266.6,626.8 268.6,630.1 270.7,633.3 272.2,635.6 273.9,637.7 275.4,640 277.1,642 280.1,643.1 283.1,644.2 286.1,645.3 285.6,649.1 285,652.9 286.7,654.9 287.9,657.2 289.5,659.3 290.8,661.5 292.9,663.5 294.5,665.9 296.7,667.9 298.3,670.3 300.3,672.3 301.7,674.7 303.6,676.6 305.1,679 305.4,681.4 304.9,683.9 305,686.3 304.7,688.7 306.5,689.7 308,691.1 309.7,692.1 311.2,693.4 313.4,695.4 315.1,697.8 317.2,699.9 319,702.2 320.5,704.1 321.2,706.3 322.5,708.4 323.4,710.5 325.1,712.6 326.5,714.8 328.4,716.7 329.7,719 332,720.9 333.7,723.4 335.9,725.4 337.7,727.7 339.5,729.7 340.9,732 342.6,734 344.1,736.2 345.4,738.2 346.4,740.4 347.8,742.3 348.7,744.6M504.6,745.7 505,743.3 504.8,740.8 505.4,738.4 505.1,735.9 505.6,733.5 505.3,731 505.5,728.6 505.4,726.1 506.6,723.8 507.2,721.3 508.4,718.9 508.9,716.4 509.9,714 510.2,711.5 511,709.1 511.5,706.6 512.5,704.5 513.2,702.2 514.3,700.1 514.9,697.9 512.3,695 511,692.1 509.6,689.2 509.5,686.3 509.3,683.4 508.6,680.5 507.9,677.6 508.3,674.7 508.7,671.8 510,668.9 511.2,666 512.2,663.4 513.7,661.1 516.3,659.2 518.8,657.2 520.8,655.1 523,653.3 524.9,651.1 527.2,649.4 529.1,647.7 531.4,646.4 533.9,645.4 536.4,644.4 539.3,642.9 542.2,641.4 545.1,639.3 548,637.3 550.4,635.3 552.9,633.3 555.3,631.3 553.4,629.2 551,627.6 550.9,623.8 553.1,623.8 555.1,624.6 556.8,627.4 558.5,628.3 561.8,627.2 565.1,626.1 567.1,624.9 569.2,624M639.3,609.6 641.5,608.1 643.6,606.7 646.9,605.7 650.1,604.7 652.2,604.9 654.2,604.5 656.3,604.7 658.3,604.2 660.4,604.5 662.5,604.4 663.1,602.4 662.8,599.9 663.4,597.5 666.1,599.1 666.6,601.5 667.4,603.8 669.3,605.5 671.3,605 673.4,605.1 675.8,603.8 678.1,602.6 681.3,601.9 684.6,601.1 687.8,600.4 691.1,600.2 694.4,600 697.9,601.2 701.4,602.5 704.1,604.1 706.9,605.6 708.5,608.3 710.1,611 712.7,611.1 715.2,611.2 718,609.9 720.7,608.5 723,606.7 725.2,604.9 727.2,603.3 728.9,601.4 731.9,601.9 734.9,602.4 737.8,604.4 740.6,606.4 742,608 744,609 745.5,610.4 747.8,612.3 749.6,614.6 752.5,616.6 755.3,618.5 756.7,621.7 758.1,624.9 757.9,628.8 757.8,632.8 758.5,635.1 758.6,637.5 760.1,639.6 761,642 762.2,638.8 762.4,641.3 763.1,643.6 762.8,646 763.4,648.4 765.9,651.4 768.4,654.4 769.8,656.9 771.8,658.7 773.8,660.9 776.1,662.9 778.3,665.5 780.5,668 781.5,670.4 783.1,672.5 785.9,673.4 788.8,674.4 791,676.9 793.3,679.5 794.7,682.2 796.1,684.9 799.7,685.2 802.6,683.7 805.4,682.1 806.5,680.1 808.3,678.6 808.4,674.6 809.8,672.6 810.6,670.2 810.3,667.3 809.9,664.4 809.6,660.5 809.3,656.6 808.3,652.9 807.4,649.1 805.7,646.5 804.1,643.8 802.4,641.2 800.8,638.6 799.1,635.5 797.5,632.4 795.6,629.8 793.8,627.2 793.7,624.3 793.6,621.3 792.2,618.7 790.4,617.2 789,615.4 786.8,612.9 784.6,610.3 783.2,608.7 782.2,606.9 780.7,605.4 779.9,603.4 778.8,601.7 777.9,599.9 776.7,598.3 776,596.3 774.5,592.7 773,589.1 772,587.3 771.8,585.2 771.1,583.3 770.7,581.4M804.8,513.7 808.1,512.4 811.5,511.2 814,511.6 814.1,509.1 814.5,506.6 816.2,503.3 817.8,500 820.1,497.6 822.3,495.1 825.5,493.4 828.7,491.7 830.9,492 833,492.6 833.8,490.3 835.1,488.2 836.2,485.7 838,483.5 840.9,480.9 843.8,478.2 844.8,477 844.8,474.5 844.4,472.2 843.1,469.6 841.8,467 840.7,465.2 839.4,463.7 838.3,461.9 837,460.3 835.3,457.4 833.6,454.4 831.8,451.4 830.1,448.4M840.9,373.6 843.1,372.9 845.3,372.1 848.6,370.7 851.9,369.2 854.4,367.6 856.9,365.9 859.4,364.2 861.9,362.5 863.7,360.9 865.5,359.4 867.1,358.1 868.2,356.3 866.6,358.1 864.3,357.8 862,357.5 860,359.6 858,361.6 854.9,362.5 851.8,363.4 849.1,364.6 846.5,365.8 843.3,367.7 842.1,369.3 841.3,371.2 840.9,373.6M842.6,367.9 843.8,364.6 845.3,363.2 846.9,361.8 848.7,360.3 850.5,358.8 852.4,357.6 854.2,356.4 857,355.6 859.7,354.8 862.3,353.5 864.9,352.1 866.8,351.2 869.1,350.3 871.4,349.4 872.1,346.6 871.6,344.3 871.4,341.9 874,343.1 875.9,345.5 878.6,343.6 882.3,343.5 885.4,341.5 887.8,339.8 890.2,338 890,335.1 888.5,333.7 887.5,331.9 885.1,331.3 887.1,333 885,335.7 882.9,338.3 881.5,336.8 880.4,335.1 877.9,332.9 875.4,330.8 872.5,329.6 874,326.2 876.1,323.6 873.2,321.5 872.3,319.4M880.7,347 882.3,345.5 883.9,344 885.8,345.4 883.2,346.2 880.7,347M889.8,346.1 892.9,344.1 891.8,345.4 889.8,346.1M845.9,248.3 847,246.2 847.6,243.8 848.8,241.7 849.6,239.2 851,236.9 851.7,234.3 852.9,231.9 853.3,229.3 854.6,227 854.6,224.5 855.5,222.2 855.4,219.7 853.5,218.5 856,217.5 857.4,215.7 857.8,213.4 859,211.6 859.5,209.5 860.6,207.7 860.9,205.5 862,203.6 863,201.3 864.4,199.3 865.1,196.9 866.4,194.8 867.9,192.7 870,191.1 872.1,189.7 874.5,188.9 876.6,187.5 878,186M845.9,248.3 848,247 849.6,245.1 851.7,243.9 852.4,241.9 853.9,240.4 854.4,238.3 855.9,236.7 856.4,234.6 857.6,232.9 858.5,230.8 859.8,229 860.6,226.9 862.1,225.1 862.7,222.9 864.1,221.1 864.9,219 866.4,217.4 867.2,215.3 868.9,213.8 869.6,211.6 871.5,210.3 872.2,208.1 873.7,206.5 874.8,204.7 876.5,203.4 877.2,201.2 878.9,200 879.7,197.9 881.6,196.7 882.5,194.8 884.3,193.3 885.3,191.2 887,189.6 888,187.5 889.8,186M958.5,191.5 957.1,193.4 956,195.5 955.4,198 955.3,200.5 957.5,201M809.5,680.3 807.9,683.6 806.3,686.9 804.1,689.3 801.9,691.7 799.8,693 797.9,694.5 795.4,695.4 792.8,696.4 789.5,697.8 786.1,699.2M794.1,655.6 796.1,654 797.8,652 796.2,648.3 793.1,646 790.9,648.4 790.8,652.3 792.3,654.1 794.1,655.6M626,613.6 625.7,611.2 624.8,608.9 627.2,608.3 629.6,607.6 632.1,607.8 634.7,608.1 636.6,610.8 634.7,612.3 632.6,613.5 629.3,613.6 626,613.6M649.2,390.6 651.6,389.7 654,388.8 656,387.7 658,386.5 659.8,383.2 661.7,379.9 662.3,377.9 662.7,375.9 663.5,374 663.6,372 663.9,369.6 663.4,367.2 663.5,364.8 663.1,362.5 662.2,360.1 660.9,358 660,355.7 658.7,353.5 658.4,351.1 657.8,348.8 657.5,346.5 656.9,344.2 657.6,342.2 658.1,340.2 659.1,338.3 659.3,336.2 660,334.2 660.5,332.2 661.2,330.3 661.6,328.2 663.4,326.3 664.5,324 665.3,326.4 666.8,328.5 667.6,325.5 668.3,322.5 669.2,320.5 669.8,318.4 671.6,316.8 673.4,315.1 672.2,311.4 673.9,309.4 675.6,307.4 675.7,306.1 673.7,304.9 671.7,303.7 669,303.2 666.2,302.6 663.1,304.5 660.1,306.3 657.5,307.1 654.9,308 653.1,309.6 651.3,311.3 648.9,310.6 646.5,310 645.5,311.9 645,314 643.2,315.3 642,317.2 641.1,319.2 640.6,321.2 639.7,323.1 639.3,325.2 637.7,327.6 636.7,330.3 636.1,333.5 635.4,336.8 637.3,334.8 639.1,332.9 640.9,330.8 642.7,328.7 644.4,326.8 645.6,324.5 646.8,322.5 647.8,320.4 646.8,323.4 645.8,326.4 644.4,329.4 643.1,332.4 642.4,334.8 642.3,337.3 641.5,339.4 641.5,341.7 640.8,343.9 640.6,346.1 640.1,348.5 640.1,351 639.5,353.3 639.6,355.8 639.3,357.9 639.9,360.1 639.6,362.2 640.1,364.3 640.5,366.4 641.2,368.5 641.3,370.7 642.2,372.7 642.8,376.4 643.3,380.2 644.8,382.9 646.2,385.6 647.7,388.1 649.2,390.6M715.7,301.4 716.4,299.5 716.3,297.4 713.7,297.6 711,297.7 708.3,297.9 705.8,299 703.3,300 700.8,301.1 699,302.4 697.2,303.6 700,304.2 702.8,304.6 705.6,305.1 708.1,304.2 710.6,303.3 713.2,302.3 715.7,301.4M710,368 710.7,366 710.8,364 713.9,361.5 715.6,363.5 716.7,365.9 715,368.1 712.5,368 710,368M715.2,354.6 715.2,358.4 714.7,362M710,368 708.4,371.1 708.6,374M705,380.7 707.6,381.5 710.3,382.3 711.6,383.8 713.5,384.7 716.4,384.7 719.3,384.6 722.3,383.6 725.4,382.6 727.8,381.7 730.1,380.8 732.6,378.4 735,376.1 737.5,374.1 740,372.2 742.5,370.3 745,368.4 747.5,366.4 750,364.5 752.4,362.1 754.8,359.7 757.1,357.2 759.5,354.8 761.1,352.8 762.1,350.4 763.6,347.5 761.6,348.1 759.6,348.6 756.2,349.5 752.9,350.4 750.2,351.4 747.6,352.4 747.8,354.5 747.7,356.6 744.6,356.9 741.4,357.1 738.7,357.8 736,358.5 732.8,360.6 729.7,362.6 727.2,364.8 724.8,366.9 722.3,369 719.8,371.1 718.9,373.3 717.7,375.3 715.9,374.3 714.4,373 711.6,373.5 708.9,373.9 708,375.8 706.5,377.2 705,380.7M827.6,290.4 828.3,293.1 829,295.9 829.5,298.3 830.8,300.3 830.7,302.8 831.5,305.1 832.2,308.8 832.3,306.7 832.8,304.7 832.5,301.8 832.2,298.9 831.3,296.2 830.4,293.5 828.4,290.2M178.8,410.4 179.4,408.1 179.3,405.7 181.4,406.2 181,408.5 180.3,410.8 178.8,410.4M244.2,480.5 248,479.5 250.4,479.3 252,476 253,473.2 253.5,477 253.9,480.2 257.4,481.1 259,484 261,487.3M150.3,499 153.3,500.2 156.2,501.5 153.7,501.8 151.8,500.7 150.3,499M158,500.9 160.9,502.1 163.9,503.3 161.5,503.2 159,503.1 158,500.9M176.1,517 178.1,518.9 180.1,520.8 177.2,519.2 176.1,517M174.1,525.3 175.5,527.8 177.2,529.9 174.5,527.4 174.1,525.3M160.5,517 162,517.3 161.5,518.3 160.5,517M162.7,597.2 162.4,600.1 162.2,603 161,600.8 162.7,597.2M209.8,622.8 209.9,626.8 210,630.7 207.9,628.3 208.8,625.6 209.8,622.8M241.2,605.1 242.1,607 243.6,608.5 244.7,610.3 246,611.8 246.4,614.8 246.7,617.8 245.1,614.6 243.5,611.4 242.4,608.3 241.2,605.1M258.1,615.8 258.6,617.9 259.6,619.9 259.9,622.1 261,624 258.5,624.1 255.9,624.2 256,620.8 256.1,617.4 258.1,615.8" fill="none" stroke="#111" stroke-width="1.0" stroke-linejoin="round"/><path d="M145.3,186 145.5,187.7 147,188.9 146.6,190.8 148.2,192 148.2,193.8 150.1,195.3 151,197.5 152.7,198.9 154.1,200.6 155.3,202.1 155.4,204.2 157.4,205.2 158,207 160,206.3 161.7,207.8 163.9,208.7 165.8,208 166.1,205.7 167.8,204.8 167.1,206.9 164.8,207.6 164,209.5 162.2,209.9 161.2,211.4 162.3,213 163.9,214.1 164.7,215.9 167.1,216.1 167.8,218 169.5,218.6 169.9,220.7 171.7,221.2 172.9,222.7 175,222.8 176.4,223.9 178.2,223.8 179.5,225.1 181.7,224.9 182.7,223.1 182.5,221 182.6,218.9 181.9,217 181.4,214.9 180.5,213 180.8,211 179.5,209.4 178.9,207.8 176.9,207.2 176.4,205.5 174.2,204.6 173,202.5 171.7,201.6 170.2,198.9 169,197.4 169.9,195.2 168.6,193.8 168.8,192.1 167.2,190.6 168.2,188.8 167.4,187.2 167.2,186M184,218 186,217 186.9,218.1 187,219.5 185,220 184,218M188,221 189.6,220.9 191,220 191.3,221.5 192.5,222.5 191,222.8 190,224 188,223 188,221M185.5,222 187,222.5 186,224.5 186.1,223.2 185.5,222M183,212 183.9,212.9 185,213.5 184,215 183.3,213.6 183,212M172.9,186 172.5,188.1 173.9,189.9 173.7,191.9 174.9,193.7 174.8,195.8 175.6,197.4 175.2,199.3 176.4,200.8 178.2,200.3 179.5,198.9 181.2,197.7 181.9,195.8 183,194.2 183,192.2 184.2,190.7 185.4,191.9 184.1,193.4 183.9,195.5 182.5,197 181.9,198.9 182,200.9 183.4,202.4 185.4,204.8 187.3,206.3 189,204.6 189.7,202.4 188.3,203.9 188.5,206 187.5,207.6 187.7,209.4 187.5,211.3 188.6,213 188.1,214.9 190.5,214.9 192,216.5 192.2,218.9 191.2,221.2 193.2,223.1 193.1,225.1 193.6,227 192.5,228.8 192.5,231 192.8,233.1 193.6,235 192.4,236.3 192.1,238 190.9,239.7 191.5,242 190.2,243.6 190.4,245.6 189,247 188.6,248.7 187.1,249.7 185.3,250.3 183.4,250.5 182.1,251.7 180.3,251.8 179,249.5 180.5,248.5 181.5,247 183.3,246 184,244 185.5,242.3 185.5,240 185.4,238 184.8,236 186.8,234.8 187.6,232.6 185.5,231 183.4,230.4 181.4,229.9 179.3,230.2 177.5,228 175.9,227.6 174.8,226 172.8,226.2 171.6,225 169.8,224.4 168.6,222.7 166.8,222.1 165,220.8 163.5,223.6 162.9,225.2 163.9,226.9 162.8,228.4 163,230 162.6,231.7 163.5,233.4 162.5,235.1 163.3,236.8 163,238.8 164.3,240.7 163.4,242.7 163.8,244.6 163.5,246.7 164.8,248.5 167.7,249.5 166.3,250.7 164.5,251 164.7,253 163.3,254.4 163.8,256.5 161.9,258.1 162.4,260.2 161.9,263.1M186,233.5 184.8,234.8 184.3,236.7 183,238 182.3,239.8 181.1,241.2 180.5,243 179.4,245.6 180.6,244.2 182,243M189,226 189.3,227.7 190.5,229 190.1,230.3 189.9,231.7 190.1,233.5 191,235 189.5,236 188.9,234.7 189.3,233.2 188.5,232 188.6,230.6 187.7,229.4 188,228 189,226M569.2,624 570.8,624 572.1,623.2 573.8,623.6 575,622.4 576.6,623.3 578.3,622.4 580,622.7 581.6,622.5 583.1,623.6 585,623.2 586.5,624.3 588.4,624 589.9,625 591.8,624.8 593.4,625.4 595.2,625.5 597.6,624.9 600.1,624.2 600.8,625.7 602.7,625.6 603.6,626.9 605.3,626.5 606.3,628.2 607.9,628 609.1,629.1 610.9,628.1 612.2,629.2 613.7,629.4 614.8,630.4 616.4,630.4 617.4,631.7 619.2,630.9 620.8,631.9 622.5,631.1 624.2,632.1 625.5,630.7 627.4,630.8 629,629.9 630.7,629.6 632.2,629.1 633.4,630.8 635,630.2 636.5,629.4 637.4,627.8 638.9,626.9 640.5,626.9 641.5,628.2 643.1,628.2 644.1,629.4 645.9,629.5 646.3,631.4 647.8,631.9 649,631 649.4,629.3 650.8,628.7 648.9,628 648,626.1 646.2,625.8 645.2,624.2 643.6,623.6 642.5,622 640.8,621 641.8,619.6 642.2,618 641.2,616.3 639.5,615.3 638.7,613.9 636.8,614.1 635.9,612.8 636.7,611.3 638.2,610.6 639.3,609.6M770.7,581.4 770.9,580 770.5,578.7 770.9,577.3 770.2,576 770.9,574.6 770.7,573 771.5,571.6 771.1,570 771.7,568.6 771.4,567 772.4,565.6 771.7,564.1 772.8,562.7 772.7,561 774,559.7 773.8,557.9 775.4,556.9 775.2,555.1 776.5,554.2 776.1,552.3 777.7,551.6 778.1,550.2 779.7,549.3 780,547.4 781.2,546.2 781.9,544.6 783.4,544.2 784.1,542.6 785.5,542 785.9,540.3 788,540 788.5,538.5 790.2,537.4 791,535.5 792.7,534.5 793.4,532.6 795,532 795.3,530.3 797.1,529.7 797.3,527.9 798.1,526.8 797.1,525.1 799,524.3 798.6,522.8 800,521.8 799.2,519.6 801.1,518.8 801.5,517.3 803,516.4 803.2,514.5 804.8,513.7M830.8,490.2 830.1,488.8 828.2,488.5 827.6,487 827.9,485.5 829.7,485 830,483.5 830.3,481.8 828.6,480.6 828.9,478.9 830.6,478.1 832.4,478.6 834.1,478 835.9,478.2 835.8,476.8 836.8,475.7 835.9,474.2 837,473 836,472.1 835.8,470.5 834.6,469.7 833.4,468.9 831.9,469.7 830.8,468.7 829.3,468.9 828.5,467.2 827,467.7 825.5,466.2 823.5,466.6 825.1,467 826.6,466.2 828.2,466.3 829.6,465.7 831.3,466.4 832.7,465.3 833.6,463.9 832.8,462.4 833.4,460.9 832.8,459.4M830.1,448.4 827.8,448.5 825.4,448.6 825.1,447.1 824,446 823.4,444.4 821.9,443.6 823.3,442.2 823.4,440.3 823.4,438.2 821.8,436.8 822.3,435.3 821.9,433.8 822.5,432.4 821.9,430.9 820,429.4 818.6,428.5 817.9,427 817.3,425.5 817.9,424.1 816.1,422.9 815.6,420.8 814,419.4 814,417.2 813.4,415.1 814.6,413.2 813.4,412 813.9,410.5 813.3,409.1 813.2,407.7 813.9,406.3 815.8,405.8 816.1,404.1 817.1,402.8 816.6,401.2 817.3,399.9 818.9,400.7 819.4,402.3 819.9,404 818.7,405.4 818.7,407 817.9,408.5 817.6,410.3 816.5,411.8 817.9,413.2 818.8,415.1 820,416.3 819.5,417.9 820.8,418.8 821.6,420.3 823,421.2 823.7,422.7 825.1,424.2 826.1,426 827.3,426.8 828,428.2 829.2,429.1 828.9,430.6 829.1,432.1 828.5,433.5 829.1,435 828.6,436.5 829,437.9 828.5,439.4 829,440.9 828.7,442.7 829.5,444.2 830.5,443.1 830,441.3 831.2,440.3 831.3,438.9 832.6,437.8 832.1,436.2 833,435 832.8,433 834,431.3 833.9,429.4 835,427.7 835,426.1 836.6,425.1 836.2,423.4 837.1,421.7 836.4,419.9 837,418.2 836.7,416.5 836.7,414.7 835.5,413.3 835.4,411.6 834.3,410.2 833.2,409.1 831.6,408.6 830.5,407.3 829.1,406.2 829,404.4 827.9,403.1 827,401.6 825.4,400.6 824.6,399 824,397.1 824.4,395.2 825.1,393.1 825.1,395 825.6,396.8 826,398.5 828.3,398.3 828.7,400 830.5,400.2 831.2,402.5 833.1,402.7 833.3,404.6 835.6,405.1 835.7,406.9 836.4,404.9 837.9,403.4 838.3,401.9 839.4,400.6 839.7,398.9 840.9,397.7 840.9,396.1 842.8,395.3 842,393.3 843.2,392.2 842.9,390.8 843.2,389.3 842.9,387.8 843.2,386.4 842.6,384.9 843.1,383.4 842.7,382 843.1,380.5 842.2,379.1 843,377.3 841.8,375.9 840,375.4 838.1,376 839.4,374.6 839.5,372.7 840.3,371.5 839.5,369.9 840.6,368.5 840,367 840.5,365.5M872.3,319.4 873.3,318 871.6,316.4 872.7,315.1 870.9,313.2 874.8,312.3 873.5,310.5 875,309.4 873.3,307.2 875,306.1 874,303.9 876.1,302.7 875.9,300.8 879.3,301.2 878.5,299 880.4,298.7 881.4,297 883.2,296.8 883,295 884.6,294.7 884.5,293 886.7,293.7 886.4,291.4 888.8,292.2 888.4,289.7 890.2,288.7 886.8,286.6 889.9,285.9 889.5,284.4 891.6,284.2 893.7,284 895.8,284.5 895.6,282.3 897.3,282.3 897.6,280.7 899.1,280.9 899.7,279.4 901.5,280.2 901.8,278.2 903.2,277.9 903.7,276.5 905.1,276.2 905.6,274.9 907.2,274.5 907.1,272.8 909.1,272.8 908.5,270.8 910.9,270.2 910.3,267.8 911.7,265.6 908.1,265.2 908.7,263.3M919.1,186 918.1,187.1 918.6,188.6 917.5,189.6 917.9,191.2 916.8,192.2 917.1,193.7 916.2,194.8 916.2,196.5 914.3,197 914.7,198.9 912.5,199.2 912.7,201 911.8,202.1 910.4,202.6 908.8,202.2 907.6,203.9 905.9,202.8 904.5,203.6 903,203.4 902.3,205.2 900.7,204.8 899.8,206 898.1,205.4 897.1,206.5 895.7,207.2 894.9,208.7 893.5,209.4 894.6,208.3 896.3,208.8 897.3,207.3 899,207.9 900.1,206.7 901.5,206.5 902.9,206.7 903.6,208.4 905.4,207.9 906.1,209.5 907.9,208.9 908.8,210.2 909.6,209 911.5,209 911.9,207.2 913.2,206.5 914.4,205.3 916.3,205.4 917.6,204.3 918.6,203 918.3,201 919.8,199.9 919.9,201.3 918.6,202.5 919.7,204 918.1,205.2 919.5,206.8 918.5,208 918.6,209.5 917.3,210.8 918.6,212.5 917.1,213.8 917.6,215.3 918.2,216.7 919.9,217.2 919.7,219.3 921.8,219.5 922,221.2 923.3,221.8 923.5,223.4 925,223.9 924.8,225.8 926.5,226.2 926.5,227.9 927.9,228.5 929,229.2 930.6,228.9 931.3,230.5 933.1,229.6 933.9,231.2 935.2,231.4 936.6,232.1 938.3,231.3 939.5,232.8 941.2,231.8 942.5,232.9 943.9,232.3 945.5,233.1 946.8,231.8 948.5,232.7 949.8,231.2 951.3,231.4 952.7,230.7 954.3,231.6 955.6,230 957.3,231.4 958.6,229.8 960.2,230.6 961.6,230 963.2,229.3 963.2,227.2 965.3,227 966,225.5 967.3,226.5 968.9,227 970.2,228.1 972.1,226.9 973.2,228.5 974.8,228.5 976.4,229 978,229M931.5,214.6 931.3,216.1 932.6,217.2 931.8,218.8 933.8,219.7 932.8,221.4 933.7,222.6 935,223.6 936.7,223 938,224.1 939.7,223.7 940.9,225.1 942.5,224.8 943.9,225.3 945.5,224.2 946.9,225.4 948.4,224.9 949.8,225.7 951.3,225.5 952.9,226.1 954.2,224.7 955.8,225.5 957.2,224.8 958,223.6 957.3,222.1 958.7,221.1 958.6,219.7 959.7,218.6 959.7,216.9 961.2,216.1 961.6,214.6 960.1,214.8 958.9,216.2 957,215.3 956,217 954.3,216.8 953.4,218.2 951.6,217.6 950.7,219.1 949,218.9 948.2,220.4 946.5,220 945.5,221.2 944.1,220.8 942.5,221.3 941.2,220 939.6,220.4 938.8,219.3 937.3,219.2 936.7,217.6 935.2,217.5 934.1,216.4 932.4,216 931.5,214.6M973.3,197 972.8,198.2 973.6,199.7 971.8,200.7 972.8,202.2 971.7,203.3 972.2,204.8 971.3,205.9 971.7,207.3 970.8,208.5 971.7,210 970.3,211.1 970.4,212.4 970.2,213.9 971.5,215.3 969.9,216.9 971.2,218.2 970.5,219.8 971.1,221.2 971.5,222.7 973.5,222.5 973.7,224.3 975.6,224.1 976.2,225.5 977.1,224.2 978.8,224.3 979.5,222.7 981.5,223.3 982,221.5 983.5,221.2 983.4,219.7 984.9,218.6 983.6,216.8 985.7,215.8 984.8,214.2 986.2,213 985.3,211.3 987,210.3 986.5,208.7 984.9,208 983.6,209.6 982,208.4 980.6,209.4 981.2,207.8 979.9,206.5 980.5,205 978.9,203.7 980,202.1 978.9,200.7 979.2,199.2 977.3,198.6 976.2,197 974.8,197.5 973.3,197M985,229 983.3,228.7 982.1,230 980.7,230.8 980.1,232.4 978.6,233 977.7,234.3 976.3,234.9 976.6,236.9 974.5,236.9 974.9,239 973,239.2 973.2,241.1 971.8,241.7 971.1,243 969.3,242.9 968.9,244.4 967.5,244.8 967.1,246.5 965.1,246.1 964.5,247.5 962.9,247.7 962.9,249.7 961,249.5 960.5,251.1 958.8,251.1 958.6,253 957.2,253.4 956.5,254.9 954.4,254.6 954.1,256.6 952.1,256.4 951.3,257.8 949.9,258.9 950.3,260.9 948.5,261.8 948.4,263.6 947.4,264.6 948,266.3 946.1,267 947.2,268.8 945.3,269.5 945.5,271 944.2,271.9 944.4,273.6 942.6,274.2 943,276.1 941.4,276.8 941.1,278.3 939.6,279 939.8,281 937.9,281.4 937.9,283.2 936.7,284.1 935.1,284.7 933.9,282.9 932.2,284.2 930.8,283.4 929.4,282.7 929.8,280.9 928,280.5 928.3,278.7 926.8,278.1 926.4,276.8 924.8,276.8 924.6,274.8 922.6,275.3 922,273.9 922.1,272.5 923.4,271.6 923,270 924.6,269.3 924.3,267.7 925,266.6 925.4,265.3 926.8,264.6 926.7,263 927.9,262.2 927.5,260.5 929.6,260.2 928.8,258.2 930.5,257.7 930.8,256.3 932.4,255.8 932.3,253.8 934.1,253.5 934.1,251.6 936,251.4 936,249.5 937.4,248.8 938.1,247.5 939.5,247.3 940.3,245.9 941.9,246.3 942.8,244.9 944.6,245.8 945.5,244.6 947,244.6 947.4,242.6 949.3,243.3 949.9,241.5 951.3,241.4 950.2,242.3 948.7,241.7 947.7,243 946.1,242.2 945.2,243.7 943.5,242.7 942.5,243.9 940.9,243.7 939.9,245.4 938.1,244.7 937,246 935.2,246.3 933.7,247.5 933.9,245.9 932.7,244.7 933.3,243 932.3,241.7 933.4,240.8 933.8,239.4 935.6,239.1 935.2,237 936.7,236.5 935.9,237.7 934.5,238 934.7,239.6 932.9,240.3 933.1,241.9 932.3,243.1 931.6,244.4 930,244.9 930.1,246.9 928.2,247.1 928.4,249.1 926.2,249.2 926.1,251 925,251.9 924.1,252.9 922.4,252.8 922.2,254.8 920.3,254.3 919.9,256.2 918,255.8 917.7,257.6 916.2,257.8 915.1,258.8 913.3,258.6 912.9,260.7 910.9,260 910.5,262.2 908.8,262.2M820.2,428.4 817.9,427.5 815.5,426.6 814.3,425.8 812.7,426.5 811.5,425.6 809.7,425.4 808.1,424.5M820.2,430.3 819.2,429.4 817.7,429.5 816.7,428.4 815.2,428.6 814.1,427.9 812.7,427.8 811.7,426.6 810.2,426.9 809.3,425.6 807.6,425.6M822.5,436.6 821.3,435.5 819.5,435.8 818.2,434.7 816.6,434.5 815.6,432.9 813.9,432.8 813,431.8 811.4,431.7 810.4,430.8M822,437.7 820.9,436.4 818.9,437.1 817.7,435.8 816.2,435.4 815,434.3 813.4,433.9M822.6,443.4 821.5,442.1 819.5,442.8 818.3,441.5 816.7,440.6 815.5,439.3M825.4,448.6 823.9,447.9 822.3,448.4 821.2,447.1 819.6,446.5 818.5,445.4 816,445 813.6,444.6M826.4,449.3 825,448.7 823.5,448.5 822.1,447.8 820.6,447.8 819.6,446.4 817.9,446.5 816.8,445.4 815.3,445.2M817.7,424.2 816.8,422.6 814.8,422.6 813.9,421.2 812.5,420.4 812.8,418.8 811.9,417.8M818,418.2 820.1,417.2 822.1,416.2 823.6,415.5 823.8,413.9M833.2,464.2 831.7,464.1 830.7,465.3 829.2,465.2 828.2,466.4 825.9,466.5 823.5,466.6M832.2,476.2 830.6,475.9 829.1,476.4 827.5,476.2 826,476.7 823.6,476.8 821.2,476.9M831.9,485 829.6,485.1 827.2,485.2 825.9,484.8 824.5,485.6 823.2,485.2M871.9,347.1 871.8,345.4 871.3,343.9 871.4,342.4 870.7,341.1 872.4,342.6 873.5,343.7 873.2,345.3M514.7,695.5 514.4,693.4 513.8,691.4 513.5,689.3 512.9,687.2 512.8,685.6 512.2,684 512.1,682.4 511.6,680.8 511.8,679.1 511.3,677.5 511.9,676 511.8,674.3 512.4,672.7 512.6,671.1 513.3,669.5 513.5,667.9 514.4,666.5 514.9,665 515.8,663.6 516.3,662.1 517.6,660.8 518.4,659.1 519.7,657.9 520.5,656.2 522.2,655 523.4,653.3 525.1,652 526.3,650.4M510.4,666 511.8,664.7 511,662.6 512,661.1 512.8,659.8 514.7,659.6 515.4,658.2 516.8,657.3 516.5,655.2 517.9,654.3 518.3,652.4 520.5,652.1 521.3,650.4 523.3,650.4 523.7,647.9 525.5,647.5 526.8,645.9 528.8,645.5 531.3,645 533.8,644.4 534.8,643.3 536.3,642.9 537.2,641.5 538.8,641.4M534.7,644.4 536.3,644 537.2,642.3 538.8,642.1 540,640.8 541.7,640.7 543,639.7 544.7,639.5 545.5,637.7 547.1,637.4 548.8,635.8 550.8,634.8 552.3,633.1 554.5,632.3M568,623.7 568.4,622.5 568.3,621.2 568.8,620 568.5,618.7 570.8,619.2 571,620.5 569.8,621.6 570,623 568,623.7M577.4,620.8 578.1,619.4 578.1,617.8 579.5,619.7 578.6,621.7 577.4,620.8M589.9,622 591.7,621.8 593.2,620.8 592.5,622.4 591.1,622.6 589.9,622M585.7,620.3 586.8,619.1 587.7,617.7 588.5,619.6 587.2,620.3 585.7,620.3M651,610.8 651.4,612.5 652.2,614.1 651.8,615.8 651.9,617.6M640.2,614.3 641,615.3 642.4,615.7 642.6,617.3 643.9,617.8 642.8,619.1 642.5,620.8 641.6,619.5 640,619.3 638.9,618.3 639.1,616.9 640.1,615.7 640.2,614.3M758.6,637.5 759.6,638.5 761.1,639 762.3,638 763.1,636.7 763,638.1 764.4,639 764.3,640.4 763.8,641.7 762.7,642.5 762.2,643.7M769.4,655.2 770.8,656.1 772.5,655.8 774,656.4 774.2,657.9 773.7,659.4 774.6,660.6 775,662.1M789.2,616.3 789.7,618 790.9,619.4 791.5,621.1 792.6,622.5 792.7,624 793.5,625.3 793.8,626.7 794.4,628.1 795,629.3 796.2,630.2 796.8,631.5 797.7,632.6 798.2,633.9 799.2,635M826.2,648 827.5,647.7 828.3,646.4 829.9,646.6 830.8,645.5 832,645 833,644.3 834.2,644.3 835.1,643.5 836.3,643.5 837.2,642.6 838.5,642.7 839.4,642 840.2,642.8 841.5,642.8 842.4,643.5 841.6,644.4 840.2,644.6 839.6,645.8 838.2,645.8 837.8,647.2 836.5,647.5 835.6,648.3 834.3,648.2 833.7,649.3 832.4,649.5 831.8,650.6 830.6,650.8 829.3,650.4 828.6,649.1 827,649.1 826.2,648M845.3,640.6 846.4,640.6 847.5,640 848.7,640.6 849.7,640 850.9,640.1 851.9,639.3 853.1,639.7 854.1,639.1 854.9,640 856.2,640.3 856.9,641.5 858.2,641.7 858.8,642.9 859.9,643.5 860.1,644.7 861.1,645.5 860.9,646.9 861.4,647.9 860.8,648.9 860.9,650.2 860.1,651.1 860.3,652.4 859.1,653.2 859.7,654.7 858.6,655.5 858.5,656.7 858.5,655.5 857.5,654.6 857.5,653.3 857,652.3 857,651 856.3,649.9 856.5,648.6 855.5,647.5 856.2,646.1 855.5,645 854.4,644.3 853,644.1 852.1,643 850.8,642.8 849.7,642 848.5,642.1 847.5,641.2 846.3,641.3 845.3,640.6M849.7,661.5 850.2,663 851.5,664 851.2,665.1 851.5,666.2 850.9,667.3 851.1,668.4M845.3,674.3 846.5,674.3 847.5,673.4 848.7,673.4 849.7,672.8 849.9,673.9 850.9,674.7 850.7,676 851.7,676.8 851.5,678.1 852.6,678.9 852.4,680.2 853.4,681 853.4,682.2 854.1,683.1 855,684 856.3,684.2 856.8,685.6 858,686 858.6,687 859.7,687.5 859.8,688.8 861,689.3 861.4,690.4 861.9,691.4 862,692.6 863.1,693.4 862.9,694.6 863.8,695.5 863.6,696.8 864.3,697.7 863.4,698.7 863.2,700.1 861.8,700.8 861.4,702.1 860.7,701.1 859.3,700.7 859.1,699.1 857.8,698.7 857,697.7 856.3,696.8 856,695.7 854.8,695.1 854.7,693.9 854,693 853.4,691.9 852.1,691.5 851.7,690.3 850.4,689.9 849.7,688.9 848.6,688.3 847.9,687.2 846.5,687 846,685.7 844.5,685.6 843.8,684.5 843.6,683.3 844.5,682.3 844,681.1 844.6,680 844.2,678.8 845,677.7 844.7,676.5 845.4,675.5 845.3,674.3M858.5,674.3 859.7,674.2 860.7,673.2 861.9,673.1 863,672.5 864.5,672.7 865.8,672M868.7,662.5 869.8,663 871.1,662.8 872.2,663.7 873.5,663.3 874.6,664 875.7,664.5 876.5,665.6 877.7,665.9 878.3,667.1 879.6,667.4 880.4,668.4 881,669.4 881.1,670.6 882.1,671.4 881.7,672.7 882.8,673.5 882.7,674.8 883.4,675.7 882.8,674.5 881.3,674.2 881.2,672.6 880,672 879.4,671 878.1,670.8 877.7,669.5 876.3,669.4 875.8,668.3 874.7,668 874,667 872.6,666.8 871.6,665.8 870.1,665.9 869,665 868.6,663.8 868.7,662.5M871.7,677.2 872.4,678.2 873.7,678.5 873.9,680 875.2,680.4 875.6,681.6 877,682 877.5,683.1 878.5,683.9 879.1,685.1 880.4,685.5 881,686.7 882,687.5 882.5,688.7 884,688.9 884.3,690.4 885.8,690.6 886.3,691.8 887.5,692.1 888.4,693.1 889.8,693 890.6,694.2 891.9,694.4 892.7,695.5 894.2,695.3 895.1,696.2 896.4,696.1 897.1,697.4 898.5,696.9 899.5,697.7M890.7,674.3 891.6,675.3 893.1,675.5 893.7,676.9 895.1,677.2 895.9,678.2 897.2,678.7 897.5,680.1 899,680.4 899.5,681.6 898.2,681.6 897,681M902.4,691.8 903.1,692.8 904.3,693.3 904.6,694.6 906,694.9 906.4,696.2 907.6,696.7 908.3,697.7 909.4,698.3 909.8,699.6 911.1,700 911.3,701.4 912.8,701.6 913.1,702.9 914.1,703.6M915.2,679.5 916.5,681 915,681.5 915.2,679.5M924.4,703 925.6,702.8 926.7,702 928,702 929.1,702.7 929.4,704.1 930.6,704.7 931,706 931.8,706.9 931.6,708.2 932.3,709.1 932.1,710.4 933.1,711.2 933.2,712.4M926,707 926.8,708 928.3,708.4 929,709.5M947.8,704.5 948.9,704.5 949.8,703.4 951,703.6 952,704.1 952.5,705.2 953.7,705.5 952.4,705.6 951.3,706.4 950,706.5 948.7,705.7 947.8,704.5M965.4,713 966.4,712.2 966.5,710.9 967.6,710.1 968,709 969.4,709.1 970.6,708.1 972,708 973.2,708.1 974.3,708.8 975.7,708.6 976.7,709.5 978,709.5 978.8,710.4 980.2,710.2 980.9,711.1 982.1,711.3 983,712 982.3,713.2 980.8,713.5 980,714.5M933,694.5 934,695.5M845.8,667 846.5,668.2M577.8,299.2 579,298.3 579.3,296.8 580.5,296 580.9,294.4 582.4,293.8 583,292.5 584.1,291.6 584.4,290.1 586,289.6 586.3,288.1 587.5,287.3 588,286 589.3,285.2 590,284 591.2,283.3 592,282 593.5,281.5 594.1,280.1 595.7,279.8 596.5,278.5 598,278 598.7,276.6 600,276 601,275 602.5,274.7 603.3,273.4 604.9,273.2 605.6,271.8 607.1,271.4 607.9,270.1 609.3,269.7 610.2,268.5 611.5,267.9 611.4,266.2 612.4,264.7 612.6,263.1 613.9,262.2 614.1,260.5 615.5,259.6 615.8,258 617,257 617.9,255.8 619.4,255.2 620,253.8 621.5,253.2 622.2,251.8 623.6,252.8 625.5,252.6 627,253.5 628.5,253.4 630,254 631.5,253.5 633,254 634.3,253.4 635.9,254 637.1,253 638.6,253.5 640,253 641.4,253.6 643,252.9 644.4,253.6 645.9,253.4 646.6,254.6 647.7,255.5 648.3,256.8 649.5,257.7 650,259 651.2,260.1 651.2,261.8 652.7,262.7 652.8,264.4 654.2,265.3 654.5,266.9 655.9,266.6 657.2,267.2 658.6,266.7 660,267 661.4,266.7 662.9,266.9 664.3,266.1 665.9,266.8 667.3,266.3 667.4,267.8 668.3,269.2 667.7,270.8 668.4,272.2 669,273.6 670.4,274.2 670.7,275.8 672.2,276.4 672.6,277.9 673.8,278.7 673.3,280 673.6,281.4 672.8,282.6 672.7,284 674.1,284.9 675.7,285.1 677,286.2 677.2,287.8 676.3,289.2 676.8,290.8 676,292.2 675.9,293.7 674.6,293.4 673.2,294 671.9,293.5 670.6,293.7 670.3,292 669.5,290.5 667.3,289.4 666,290.3 664.3,290.1 663,291.1 661.4,290.8 660,291.5 658.6,291.9 657.4,293 655.7,292.8 654.5,293.7 653.2,294.3 652.6,295.7 651,296 650.3,297.3 649.1,298 647.6,298.4 646.1,297.8 644.6,298.4 643.1,297.6 641.6,298 640.5,297.1 639,297.1 638.1,295.8 636.5,295.9 635.7,294.5 634,294.7 633,293.7 631.6,293.9 630.4,292.7 628.9,293.3 627.6,292.6 626.1,293.4 624.4,293.7 624.2,292.1 625.3,290.8 624.6,289.1 625.5,287.7 625.4,286.2 626.6,285.7 627.3,284.3 628.9,284.3 629.5,282.8 631,282.6 631.8,281.4 633,280.8 631.9,281.6 630.4,281.2 629.3,282.2 627.8,281.8 626.8,282.9 625.4,283 624.6,284.1 623.3,284.7 622.9,286.2 621.5,286.7 620.9,288 619.5,288.5 619,289.9 617.6,290.4 616.9,291.6 615.5,292 614.4,293.1 613,293.5 611.9,294.6 610.5,295 609.5,296.2 608,296.5 607,297.7 605.5,297.9 604.5,299.1 603.1,299.5 602.2,300.8 600.7,301.2 599.1,301.4 597.8,300.3 596.1,301.1 594.8,300 593.2,300.2 593.5,298.9 593.5,297.6 594.1,296.3 593.9,295 594.3,293.7 593,294.6 591.3,294.9 590,295.9 588.6,296.1 587.7,297.1 586.3,297.3 585.4,298.4 584,298.5 582.5,299 580.9,298.7 579.4,299.2 577.8,299.2M675.9,293.7 677.3,293.7 678.6,293 680,293.3 681.3,292.6 681.4,294.1 682.8,295.1 682.7,296.8 683.5,298 684.7,297.5 685.4,296.2 686.7,295.9 686.9,297.4 686,298.7 686.7,300.2 686.1,301.6M655.5,272.5 656.6,272.2 657.5,271.5 658,272.8 656.7,272.9 655.5,272.5M613.1,274.9 614,274.4 614.5,273.4 615.6,273 616.1,272 617,271.5 617.8,270.7 619.1,270.7 619.6,269.3 620.9,269.3 621.7,268.5 620.9,269.4 620.5,270.5 619.4,270.7 619.2,272.1 617.9,272.1 617.6,273.3 616.5,273.5 615.4,274.2 614.1,274.1 613.1,274.9M675.7,306.1 677.2,305.8 678.4,304.7 679.8,304.2 681.1,303.3 683.6,302.5 686.1,301.6 688.8,301.3 691.4,301.1 692.7,299.9 693.7,298.4 695.2,298 696.6,297.3 698.3,297.4 699.6,296.2 701.2,296 702.5,295 705.1,294.9 707.8,294.8 710.5,294.6 711.9,294.3 713.2,295.1 714.7,294.9 716,295.5 718.7,295.7 721.4,295.8 724.2,296 726.5,297.5 728.8,299 729.8,300.2 731.2,300.9 732.1,302.3 733.6,302.9 734.6,304.3 736.1,305.3 737.1,306.8 738.7,307.7 739,309.5 740.3,310.8 740.7,312.5 742,313.8 742.1,315.4 743.2,316.5 741.7,317.2 741.8,319.2 740.4,319.9 737.7,320 734.9,320.1 732.4,321 729.8,322 728.4,320.7 727.5,319.1 726.2,317.7 725.2,316.1 724,315.3 723.3,313.9 721.8,313.3 721,312.1 719.5,311.7 718.5,310.6 719.8,311.6 720.4,313.1 721.9,314 722.4,315.7 723.4,317.1 723.7,318.8 724.7,320.2 725,322 724.9,323.7 723.8,325.1 723.8,326.8 722.7,328.2 722.9,329.8 722,331.4 722.5,333 721.9,334.6 722.7,336.3 722.3,337.9 722.9,339.8 722.7,341.7 723.1,343.6 723,345.5 723.1,347.5 721.9,349.1 721.7,351 720.8,352.6 719.5,353.4 718,353.6 716.7,354.4 715.2,354.6 714.4,353.3 714.1,351.9 712.9,350.8 712.9,349.2 712.2,347.7 711.8,346 711,344.5 710.7,342.8 709.8,341.4 709.4,339.7 708.4,338.3 708.2,336.5 706.1,336.4 704,336.3 701.9,338.1 699.8,339.9 698.9,341.2 697.6,342.1 697,343.7 695.4,344.4 694.6,345.9 693.2,346.7 692.3,344.9 691.9,343 692.4,341.3 694.2,340.4 694.7,338.7 695.8,337.3 696.3,335.6 697.4,334.2 697.9,332.5 698.1,330.5 697.9,328.6 698.2,326.7 698,324.7 697.8,322.9 696.4,321.6 696.2,319.8 694.9,318.5 694.8,317 693.8,315.8 693.6,314.3 692.7,313.1 691.4,312.2 689.8,311.9 688.4,311.2 686.9,310.8 685.7,309.5 684,309.6 682,309.4 679.9,309.3 677.9,308.3 675.9,307.4M760.1,341.1 758.5,341.1 756.9,341.6 755.3,341.7 753.7,342 752.1,342 750.6,342.5 751,340.9 750.6,339.2 752.2,336.9 753.9,334.7 755.3,334 756.3,332.7 757.7,332 758.6,330.7 760.4,330.2 761.8,329.1 763.5,328.5 764.9,327.4 766.6,327 768.2,326.2 769.9,326 771.4,325 773.1,325.1 774.9,324.8 776.6,324.9 778.3,324.5 780.2,323.5 782.1,322.6 783.9,321.2 785.6,319.8 787,319.1 788,317.8 789.4,317.1 790.3,315.8 793.1,316.1 794.4,317.6 795.4,319.4 796,321.2 796.3,323.1 797.1,324.9 797.2,326.8 795.5,328.7 793.8,330.5 792.4,331.5 790.9,332.2 789.7,333.4 788,333.9 786.8,335.1 785.1,335.5 782.4,336.2 779.7,336.8 776.9,336.8 774,336.8 771.2,336.8 769.5,336.9 767.8,337.5 766.1,337.7 764.5,338.2 762.3,339.7 760.1,341.1M535,245 536.1,244.5 536.8,243.4 538,243 539.3,242.2 540.7,242.9 542,242.5 543.3,243.1 544.8,242.5 546,243.5 547.4,243.9 547.8,245.5 549,246 549.4,247.2 550.9,247.6 551,249 550.7,250.1 549.7,250.9 549.5,252 548.4,252.5 548.3,254.1 547,254.5 545.9,255.7 544.2,255 543,256 541.8,256.4 541.2,257.6 540,258 539.3,259 537.8,258.5 537,259.5 536.3,258.3 535,258 535.4,256.4 534.5,255 535.6,254.3 535,252.7 536,252 535.2,250.6 535,249 534.3,247.7 535.5,246.3 535,245M539,247 540.1,246.8 540.9,246 542,246 542.7,246.9 542.5,248.3 543.5,249 542.3,249.2 541.7,250.4 540.5,250.5 539.7,249.5 539.9,248 539,247M544,250 545.3,250 546.5,249.5 546.1,250.5 546.7,251.6 546,252.5 545,252.4 544,252 543.7,251 544,250M557.5,258.5 558.5,259.6 560,259.5 560.6,260.8 562.4,260.6 563,262 564.2,262.1 564.8,263.5 566,263.5 566.9,264.2 568.3,263.9 568.7,265.6 570,265.5 569.3,266.4 569,267.5 567.9,266.4 566.2,266.8 565,266 563.9,265.7 563.1,264.7 561.8,264.8 561,264 559.9,263.5 559.3,262.2 558,262 558.2,260.8 557.5,259.7 557.5,258.5M612,228 613.6,228.1 614.4,226.4 616,226.5 617.6,226.4 618.9,227.6 620.5,227.5 620.7,228.9 622.2,229.5 622,231.1 623,232 622.6,233.3 623.7,234.3 623.2,235.6 623.8,236.8 623.7,238 623.6,239.6 622.1,240.4 622.1,242 621,243 619.8,244 618.1,243.4 617,244.5 615.9,243.2 614.2,243.1 613,242 612,241 612.6,239.3 610.9,238.5 611,237 610.4,235.8 611.2,234.4 609.6,233.4 610,232 610.2,230.4 611.6,229.5 612,228M490.3,186 490.9,187.3 492.2,188.1 492.6,189.5 494,190.2 494.2,191.8 495.2,192.8 495.6,194.1 496.8,194.9 496.8,196.4 498.1,197.2 498.2,198.6 499.8,199.2 500,200.6 501.7,201.4 503,202.6 503.3,201.2 504.2,200 504.4,198.6 505.5,199.4 506.9,199.6 506.9,201.1 508.2,202.1 508.3,203.5 509.1,204.9 508.4,206.5 509.4,207.9 509.3,209.4 510.6,210.5 511.2,212.3 512.7,213.3 512.3,214.9 512.6,216.6 512.2,218.2 512.9,219.5 512.1,220.8 512.6,222.1 512,223.4 513.2,224.7 512.7,226 513.4,227.4 513.1,229 514.3,230.3 514.2,231.9 516.6,230.9 517.2,229.3 517,227.6 517.6,226 519.1,226.3 520.5,227 520.4,225.7 521.3,224.4 520.4,223.1 521.1,221.8 520.5,220.5 521.5,219.2 520.8,217.9 522,216.6 521.5,215.3 521.1,213.9 519.9,212.9 519.5,211.5 518.6,210.4 518.2,208.8 517.1,207.6 517.2,205.8 516.2,204.5 516.1,203.1 514.8,202.1 514.9,200.6 513.8,199.6 514.2,198 512.7,197.2 512.7,195.7 511.7,194.5 512,192.8 510.9,191.7 511,190.1 509.8,188.9 510,187.3 509.3,186M473.7,186 473.3,187.4 474.5,188.5 473.6,190 474.6,191.2 474.2,192.5 474.6,193.8 474.3,195.3 475.2,196.7 474.5,198.2 475.3,199.6 474.6,201.2 475.1,202.6 475.4,204.2 477.3,204.9 477.6,206.5 479,206.6 479.9,207.7 481.5,207.4 482.5,208.4 483.7,209.1 484.2,210.6 485.7,211 486.2,212.5 487.3,213.3 487.5,214.6 488.5,215.7 488.6,217 489.3,218.2 489.5,219.6 490.5,220.8 489.9,222.4 491.3,223.5 491.3,225 492.1,226.4 491.4,228 492.7,229.3 492,231 493.3,232.2 493.2,233.8 494.8,234.2 496.1,235.3 497.1,234.3 498.6,234.2 499.2,232.8 500.5,232.3 499.8,231.1 500.2,229.5 498.9,228.5 499,227 497.9,226.2 497.2,224.9 495.9,224.2 495.5,222.8 494.2,222.1 493.6,220.7 492,220.5 491.3,219.2 491.7,217.8 493,216.8 493.2,215.3 493.4,213.8 492.2,212.6 492.6,211 491.5,209.8 491.3,208.4 489.9,207.8 489,206.5 487.5,206.1 486.4,205 484.9,205.3 483.7,204 482.2,204.4 481,203.3 479.5,203.5 479.5,201.7 478.2,200.3 478.1,198.6 478.5,197.1 479.7,195.9 479.4,194 480.5,192.8 480.1,191.4 480.9,190.1 480.1,188.7 480.8,187.4 480.5,186M298.6,382.7 296.3,383.7 293.9,384.8 292.9,386 292.8,387.5 291.7,388.6 291.6,390.2 291.7,391.7 292.9,392.8 293.1,394.3 294.4,395.3 294.9,396.9 296,398.1 296.6,399.6 298.4,398.9 300.3,399.2 300,397.6 300.7,396.1 300.3,394.5 299.9,392.6 298.7,391.3 299.4,390 299.8,388.6 300.7,387.4 301,385.9 300.4,384.6 299.2,383.9 298.6,382.7M744.4,525.5 745.1,526.5 746.5,526.8 747.2,527.9 748.7,528 749.8,529 748.4,528.9 747.2,528.2 746.4,527.7 746,526.7 744.8,526.5 744.4,525.5" fill="none" stroke="#000" stroke-width="1.15" stroke-linejoin="round"/></g><rect x="115.4" y="186.1" width="871.2" height="529.6" fill="none" stroke="#000" stroke-width="1.2"/><path d="M98.4,272.7H115.4M98.4,372.0H115.4M98.4,470.8H115.4M98.4,569.9H115.4M98.4,670.1H115.4M986.6,234.2H1003.6M986.6,336.5H1003.6M986.6,438.3H1003.6M986.6,539.3H1003.6M986.6,640.3H1003.6M287.4,715.7V732.7M464.4,715.7V732.7M641.5,715.7V732.7M822.4,715.7V732.7M235.1,186.1V169.1M418.0,186.1V169.1M594.7,186.1V169.1M778.2,186.1V169.1M977.2,186.1V169.1" stroke="#3a3a3a" stroke-width="1.3" fill="none"/><text x="80.2" y="282.9" font-size="28.8" text-anchor="end">45°N</text><text x="80.2" y="382.2" font-size="28.8" text-anchor="end">40°N</text><text x="80.2" y="481.0" font-size="28.8" text-anchor="end">35°N</text><text x="80.2" y="580.1" font-size="28.8" text-anchor="end">30°N</text><text x="80.2" y="680.3" font-size="28.8" text-anchor="end">25°N</text><text x="287.4" y="762" font-size="28.6" text-anchor="middle">110°W</text><text x="464.4" y="762" font-size="28.6" text-anchor="middle">100°W</text><text x="641.5" y="762" font-size="28.6" text-anchor="middle">90°W</text><text x="822.4" y="762" font-size="28.6" text-anchor="middle">80°W</text><text x="551" y="141.9" font-size="36.85" text-anchor="middle">GEOS 20251028 Daily AOD Forecast</text><rect x="195.40" y="800.2" width="32.63" height="42.8" fill="#ffffff"/><rect x="227.73" y="800.2" width="32.63" height="42.8" fill="#e0f3fb"/><rect x="260.05" y="800.2" width="32.63" height="42.8" fill="#bde6f8"/><rect x="292.38" y="800.2" width="32.63" height="42.8" fill="#9bd8f5"/><rect x="324.71" y="800.2" width="32.63" height="42.8" fill="#80c0e8"/><rect x="357.04" y="800.2" width="32.63" height="42.8" fill="#66a8dc"/><rect x="389.36" y="800.2" width="32.63" height="42.8" fill="#4a8bca"/><rect x="421.69" y="800.2" width="32.63" height="42.8" fill="#479b9b"/><rect x="454.02" y="800.2" width="32.63" height="42.8" fill="#48a572"/><rect x="486.35" y="800.2" width="32.63" height="42.8" fill="#4bb649"/><rect x="518.67" y="800.2" width="32.63" height="42.8" fill="#84c451"/><rect x="551.00" y="800.2" width="32.63" height="42.8" fill="#c5d957"/><rect x="583.33" y="800.2" width="32.63" height="42.8" fill="#f7e35a"/><rect x="615.65" y="800.2" width="32.63" height="42.8" fill="#f8be4c"/><rect x="647.98" y="800.2" width="32.63" height="42.8" fill="#f89a3e"/><rect x="680.31" y="800.2" width="32.63" height="42.8" fill="#f36f2b"/><rect x="712.64" y="800.2" width="32.63" height="42.8" fill="#ea5429"/><rect x="744.96" y="800.2" width="32.63" height="42.8" fill="#e03b28"/><rect x="777.29" y="800.2" width="32.63" height="42.8" fill="#d4232a"/><rect x="809.62" y="800.2" width="32.63" height="42.8" fill="#be1d27"/><rect x="841.95" y="800.2" width="32.63" height="42.8" fill="#a81c22"/><rect x="874.27" y="800.2" width="32.63" height="42.8" fill="#8e1519"/><path d="M227.73,800.2V843.0M260.05,800.2V843.0M292.38,800.2V843.0M324.71,800.2V843.0M357.04,800.2V843.0M389.36,800.2V843.0M421.69,800.2V843.0M454.02,800.2V843.0M486.35,800.2V843.0M518.67,800.2V843.0M551.00,800.2V843.0M583.33,800.2V843.0M615.65,800.2V843.0M647.98,800.2V843.0M680.31,800.2V843.0M712.64,800.2V843.0M744.96,800.2V843.0M777.29,800.2V843.0M809.62,800.2V843.0M841.95,800.2V843.0M874.27,800.2V843.0" stroke="#000" stroke-width="0.8" fill="none"/><rect x="195.4" y="800.2" width="711.2" height="42.8" fill="none" stroke="#555" stroke-width="1"/><text x="227.73" y="869.3" font-size="19" text-anchor="middle">0</text><text x="260.05" y="869.3" font-size="19" text-anchor="middle">0.2</text><text x="292.38" y="869.3" font-size="19" text-anchor="middle">0.4</text><text x="324.71" y="869.3" font-size="19" text-anchor="middle">0.6</text><text x="357.04" y="869.3" font-size="19" text-anchor="middle">0.8</text><text x="389.36" y="869.3" font-size="19" text-anchor="middle">1</text><text x="421.69" y="869.3" font-size="19" text-anchor="middle">1.2</text><text x="454.02" y="869.3" font-size="19" text-anchor="middle">1.4</text><text x="486.35" y="869.3" font-size="19" text-anchor="middle">1.6</text><text x="518.67" y="869.3" font-size="19" text-anchor="middle">1.8</text><text x="551.00" y="869.3" font-size="19" text-anchor="middle">2</text><text x="583.33" y="869.3" font-size="19" text-anchor="middle">2.2</text><text x="615.65" y="869.3" font-size="19" text-anchor="middle">2.4</text><text x="647.98" y="869.3" font-size="19" text-anchor="middle">2.6</text><text x="680.31" y="869.3" font-size="19" text-anchor="middle">2.8</text><text x="712.64" y="869.3" font-size="19" text-anchor="middle">3</text><text x="744.96" y="869.3" font-size="19" text-anchor="middle">3.2</text><text x="777.29" y="869.3" font-size="19" text-anchor="middle">3.4</text><text x="809.62" y="869.3" font-size="19" text-anchor="middle">3.6</text><text x="841.95" y="869.3" font-size="19" text-anchor="middle">3.8</text><text x="874.27" y="869.3" font-size="19" text-anchor="middle">4</text></svg></body></html>
